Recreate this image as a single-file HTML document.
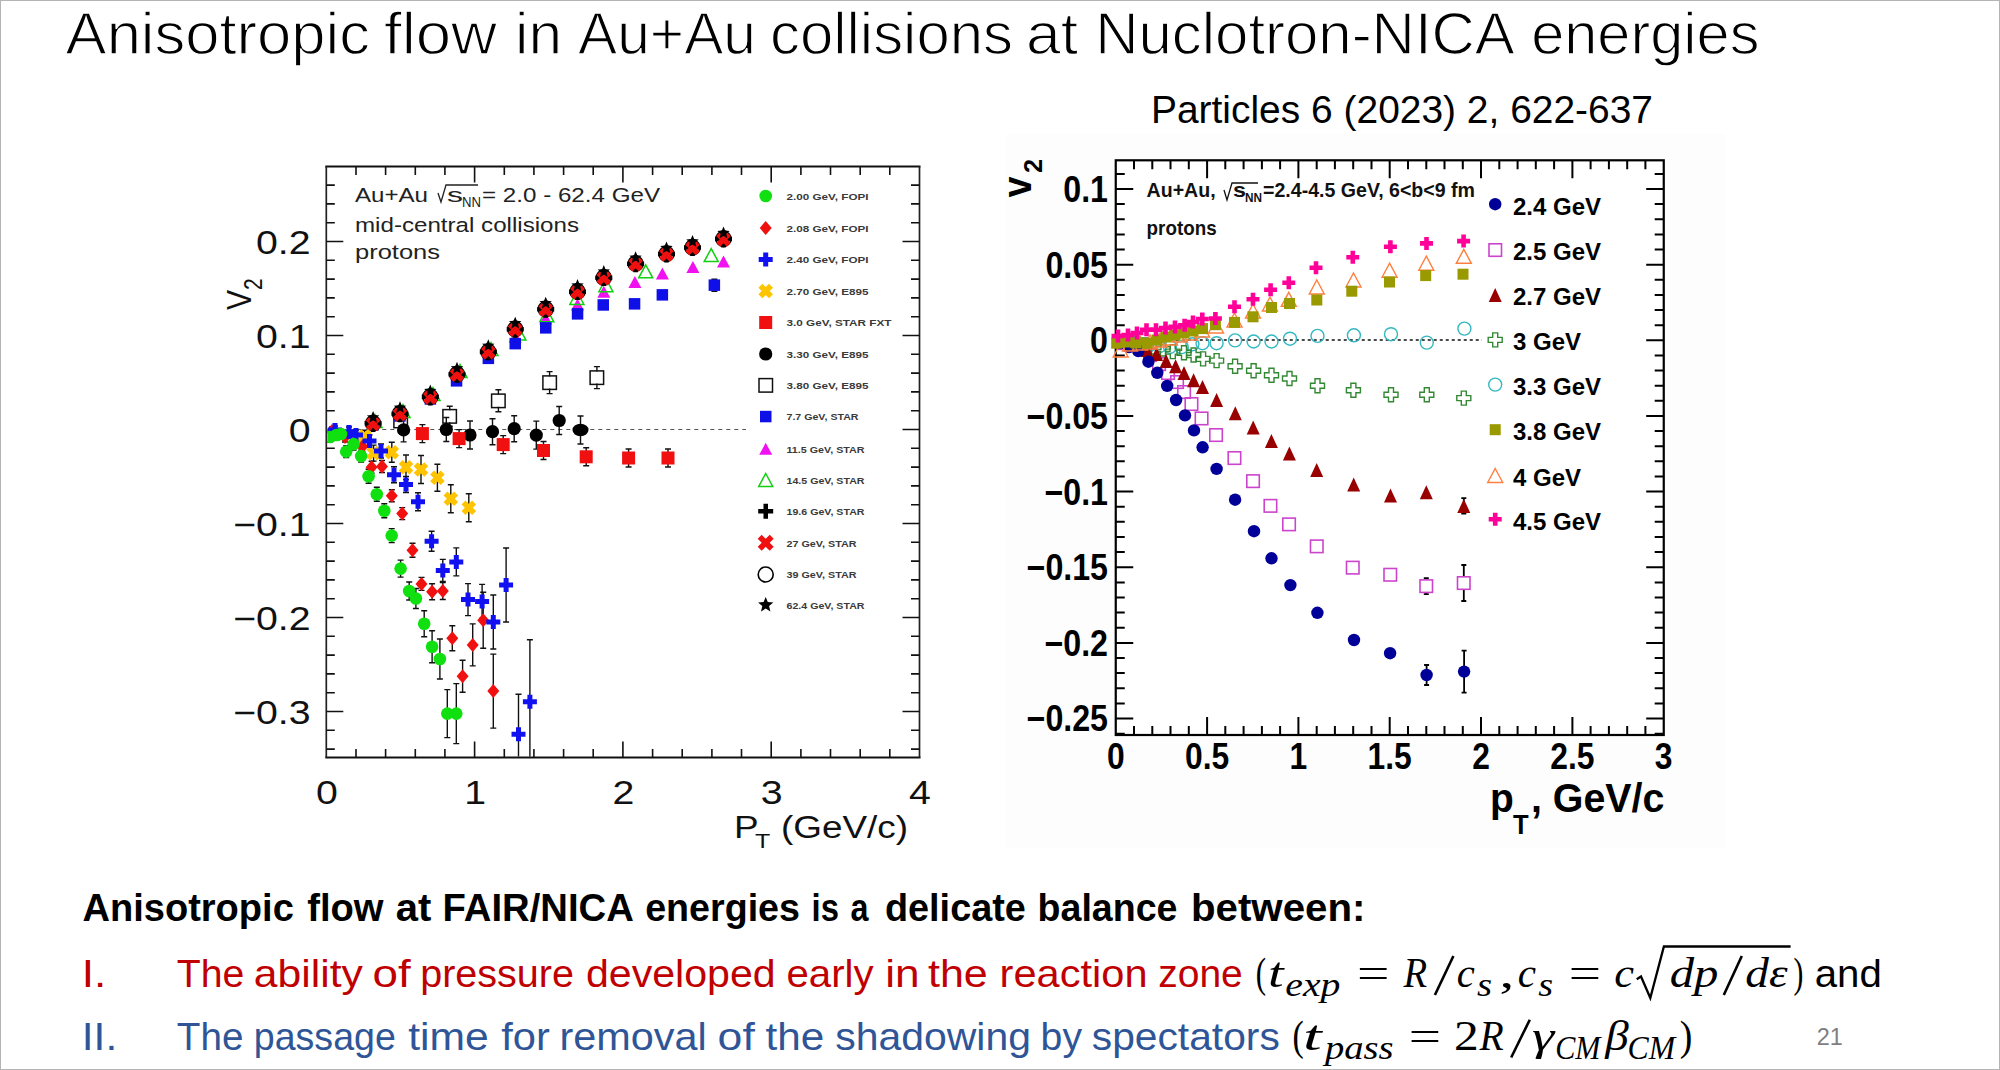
<!DOCTYPE html>
<html><head><meta charset="utf-8"><style>
html,body{margin:0;padding:0;background:#fff;}
body{width:2000px;height:1070px;overflow:hidden;position:relative;}
.frame{position:absolute;left:0;top:0;width:1998px;height:1068px;border:1px solid #b4b4b4;}
svg{position:absolute;left:0;top:0;}
</style></head><body>
<div class="frame"></div>
<svg width="2000" height="1070" viewBox="0 0 2000 1070">
<path d="M325.3 166.5H920.5M325.3 757.5H920.5" fill="none" stroke="#111" stroke-width="2.2"/><path d="M326.3 166.5V757.5M919.5 166.5V757.5" fill="none" stroke="#222" stroke-width="1.7"/>
<path d="M356.0 757.5v-8.5M356.0 166.5v8.5M385.6 757.5v-8.5M385.6 166.5v8.5M415.3 757.5v-8.5M415.3 166.5v8.5M444.9 757.5v-8.5M444.9 166.5v8.5M474.6 757.5v-16M474.6 166.5v16M504.3 757.5v-8.5M504.3 166.5v8.5M533.9 757.5v-8.5M533.9 166.5v8.5M563.6 757.5v-8.5M563.6 166.5v8.5M593.2 757.5v-8.5M593.2 166.5v8.5M622.9 757.5v-16M622.9 166.5v16M652.6 757.5v-8.5M652.6 166.5v8.5M682.2 757.5v-8.5M682.2 166.5v8.5M711.9 757.5v-8.5M711.9 166.5v8.5M741.5 757.5v-8.5M741.5 166.5v8.5M771.2 757.5v-16M771.2 166.5v16M800.9 757.5v-8.5M800.9 166.5v8.5M830.5 757.5v-8.5M830.5 166.5v8.5M860.2 757.5v-8.5M860.2 166.5v8.5M889.8 757.5v-8.5M889.8 166.5v8.5M326.3 749.1h8.5M919.5 749.1h-8.5M326.3 730.3h8.5M919.5 730.3h-8.5M326.3 711.5h17M919.5 711.5h-17M326.3 692.7h8.5M919.5 692.7h-8.5M326.3 673.9h8.5M919.5 673.9h-8.5M326.3 655.1h8.5M919.5 655.1h-8.5M326.3 636.3h8.5M919.5 636.3h-8.5M326.3 617.5h17M919.5 617.5h-17M326.3 598.7h8.5M919.5 598.7h-8.5M326.3 579.9h8.5M919.5 579.9h-8.5M326.3 561.1h8.5M919.5 561.1h-8.5M326.3 542.3h8.5M919.5 542.3h-8.5M326.3 523.5h17M919.5 523.5h-17M326.3 504.7h8.5M919.5 504.7h-8.5M326.3 485.9h8.5M919.5 485.9h-8.5M326.3 467.1h8.5M919.5 467.1h-8.5M326.3 448.3h8.5M919.5 448.3h-8.5M326.3 429.5h17M919.5 429.5h-17M326.3 410.7h8.5M919.5 410.7h-8.5M326.3 391.9h8.5M919.5 391.9h-8.5M326.3 373.1h8.5M919.5 373.1h-8.5M326.3 354.3h8.5M919.5 354.3h-8.5M326.3 335.5h17M919.5 335.5h-17M326.3 316.7h8.5M919.5 316.7h-8.5M326.3 297.9h8.5M919.5 297.9h-8.5M326.3 279.1h8.5M919.5 279.1h-8.5M326.3 260.3h8.5M919.5 260.3h-8.5M326.3 241.5h17M919.5 241.5h-17M326.3 222.7h8.5M919.5 222.7h-8.5M326.3 203.9h8.5M919.5 203.9h-8.5M326.3 185.1h8.5M919.5 185.1h-8.5" stroke="#111" stroke-width="1.6" fill="none"/>
<line x1="326.3" y1="429.5" x2="746" y2="429.5" stroke="#555" stroke-width="1.2" stroke-dasharray="4 4"/>
<text transform="translate(310.5,253.5) scale(1.19,1)" font-family='"Liberation Sans", sans-serif' font-size="33" font-weight="normal" text-anchor="end" fill="#111" >0.2</text>
<text transform="translate(310.5,347.5) scale(1.19,1)" font-family='"Liberation Sans", sans-serif' font-size="33" font-weight="normal" text-anchor="end" fill="#111" >0.1</text>
<text transform="translate(310.5,441.5) scale(1.19,1)" font-family='"Liberation Sans", sans-serif' font-size="33" font-weight="normal" text-anchor="end" fill="#111" >0</text>
<text transform="translate(310.5,535.5) scale(1.19,1)" font-family='"Liberation Sans", sans-serif' font-size="33" font-weight="normal" text-anchor="end" fill="#111" >−0.1</text>
<text transform="translate(310.5,629.5) scale(1.19,1)" font-family='"Liberation Sans", sans-serif' font-size="33" font-weight="normal" text-anchor="end" fill="#111" >−0.2</text>
<text transform="translate(310.5,723.5) scale(1.19,1)" font-family='"Liberation Sans", sans-serif' font-size="33" font-weight="normal" text-anchor="end" fill="#111" >−0.3</text>
<text transform="translate(326.8,803.8) scale(1.19,1)" font-family='"Liberation Sans", sans-serif' font-size="33" font-weight="normal" text-anchor="middle" fill="#111" >0</text>
<text transform="translate(475.1,803.8) scale(1.19,1)" font-family='"Liberation Sans", sans-serif' font-size="33" font-weight="normal" text-anchor="middle" fill="#111" >1</text>
<text transform="translate(623.4,803.8) scale(1.19,1)" font-family='"Liberation Sans", sans-serif' font-size="33" font-weight="normal" text-anchor="middle" fill="#111" >2</text>
<text transform="translate(771.7,803.8) scale(1.19,1)" font-family='"Liberation Sans", sans-serif' font-size="33" font-weight="normal" text-anchor="middle" fill="#111" >3</text>
<text transform="translate(920.0,803.8) scale(1.19,1)" font-family='"Liberation Sans", sans-serif' font-size="33" font-weight="normal" text-anchor="middle" fill="#111" >4</text>
<text transform="translate(734.0,837.5) scale(1.19,1)" font-family='"Liberation Sans", sans-serif' font-size="31" font-weight="normal" text-anchor="start" fill="#111" >P</text>
<text transform="translate(755.0,847.5) scale(1.19,1)" font-family='"Liberation Sans", sans-serif' font-size="21" font-weight="normal" text-anchor="start" fill="#111" >T</text>
<text transform="translate(781.0,837.5) scale(1.19,1)" font-family='"Liberation Sans", sans-serif' font-size="31" font-weight="normal" text-anchor="start" fill="#111" >(GeV/c)</text>
<g transform="translate(250.5,310) rotate(-90)"><text font-family='"Liberation Sans", sans-serif' font-size="30" transform="scale(1,1.19)" fill="#111">V</text><text x="20" y="10" font-family='"Liberation Sans", sans-serif' font-size="21" transform="scale(1,1.19)" fill="#111">2</text></g>
<text x="355" y="202.2" font-family='"Liberation Sans", sans-serif' font-size="20.5" fill="#222" textLength="73" lengthAdjust="spacingAndGlyphs">Au+Au</text>
<path d="M438 193l3 9l5 -17h32" stroke="#222" stroke-width="1.3" fill="none"/>
<text x="447" y="202.2" font-family='"Liberation Sans", sans-serif' font-size="20.5" fill="#222" textLength="16" lengthAdjust="spacingAndGlyphs">s</text>
<text x="462" y="207" font-family='"Liberation Sans", sans-serif' font-size="14" fill="#222" textLength="19" lengthAdjust="spacingAndGlyphs">NN</text>
<text x="482" y="202.2" font-family='"Liberation Sans", sans-serif' font-size="20.5" fill="#222" textLength="178" lengthAdjust="spacingAndGlyphs">= 2.0 - 62.4 GeV</text>
<text x="355" y="231.6" font-family='"Liberation Sans", sans-serif' font-size="20.5" fill="#222" textLength="224" lengthAdjust="spacingAndGlyphs">mid-central collisions</text>
<text x="355" y="259.2" font-family='"Liberation Sans", sans-serif' font-size="20.5" fill="#222" textLength="85" lengthAdjust="spacingAndGlyphs">protons</text>
<clipPath id="clipL"><rect x="327.3" y="167.5" width="591.2" height="589.0"/></clipPath><g clip-path="url(#clipL)">
<path d="M403.6 417.9V441.9M400.6 417.9H406.6M400.6 441.9H406.6" stroke="#111" stroke-width="1.4" fill="none"/>
<path d="M446.3 417.5V441.5M443.3 417.5H449.3M443.3 441.5H449.3" stroke="#111" stroke-width="1.4" fill="none"/>
<path d="M470.0 421.0V449.0M467.0 421.0H473.0M467.0 449.0H473.0" stroke="#111" stroke-width="1.4" fill="none"/>
<path d="M492.5 418.7V444.7M489.5 418.7H495.5M489.5 444.7H495.5" stroke="#111" stroke-width="1.4" fill="none"/>
<path d="M514.2 415.7V441.7M511.2 415.7H517.2M511.2 441.7H517.2" stroke="#111" stroke-width="1.4" fill="none"/>
<path d="M536.3 421.1V449.1M533.3 421.1H539.3M533.3 449.1H539.3" stroke="#111" stroke-width="1.4" fill="none"/>
<path d="M559.2 406.5V434.5M556.2 406.5H562.2M556.2 434.5H562.2" stroke="#111" stroke-width="1.4" fill="none"/>
<path d="M580.5 416.0V444.0M577.5 416.0H583.5M577.5 444.0H583.5" stroke="#111" stroke-width="1.4" fill="none"/>
<path d="M400.7 411.0V415.0M400.7 427.0V431.0M397.7 411.0H403.7M397.7 431.0H403.7" stroke="#111" stroke-width="1.4" fill="none"/>
<path d="M449.7 406.3V410.3M449.7 422.3V426.3M446.7 406.3H452.7M446.7 426.3H452.7" stroke="#111" stroke-width="1.4" fill="none"/>
<path d="M498.4 389.8V394.8M498.4 406.8V411.8M495.4 389.8H501.4M495.4 411.8H501.4" stroke="#111" stroke-width="1.4" fill="none"/>
<path d="M549.6 371.6V376.6M549.6 388.6V393.6M546.6 371.6H552.6M546.6 393.6H552.6" stroke="#111" stroke-width="1.4" fill="none"/>
<path d="M596.9 366.6V371.6M596.9 383.6V388.6M593.9 366.6H599.9M593.9 388.6H599.9" stroke="#111" stroke-width="1.4" fill="none"/>
<path d="M422.4 424.6V442.6M419.4 424.6H425.4M419.4 442.6H425.4" stroke="#111" stroke-width="1.4" fill="none"/>
<path d="M459.1 429.6V447.6M456.1 429.6H462.1M456.1 447.6H462.1" stroke="#111" stroke-width="1.4" fill="none"/>
<path d="M503.2 435.6V453.6M500.2 435.6H506.2M500.2 453.6H506.2" stroke="#111" stroke-width="1.4" fill="none"/>
<path d="M543.5 441.5V459.5M540.5 441.5H546.5M540.5 459.5H546.5" stroke="#111" stroke-width="1.4" fill="none"/>
<path d="M586.2 447.8V465.8M583.2 447.8H589.2M583.2 465.8H589.2" stroke="#111" stroke-width="1.4" fill="none"/>
<path d="M628.6 449.0V467.0M625.6 449.0H631.6M625.6 467.0H631.6" stroke="#111" stroke-width="1.4" fill="none"/>
<path d="M668.0 449.0V467.0M665.0 449.0H671.0M665.0 467.0H671.0" stroke="#111" stroke-width="1.4" fill="none"/>
<path d="M364.6 430.3V442.3M361.6 430.3H367.6M361.6 442.3H367.6" stroke="#111" stroke-width="1.4" fill="none"/>
<path d="M373.6 445.1V461.1M370.6 445.1H376.6M370.6 461.1H376.6" stroke="#111" stroke-width="1.4" fill="none"/>
<path d="M391.8 442.3V462.3M388.8 442.3H394.8M388.8 462.3H394.8" stroke="#111" stroke-width="1.4" fill="none"/>
<path d="M406.0 455.0V479.6M403.0 455.0H409.0M403.0 479.6H409.0" stroke="#111" stroke-width="1.4" fill="none"/>
<path d="M421.0 455.5V483.5M418.0 455.5H424.0M418.0 483.5H424.0" stroke="#111" stroke-width="1.4" fill="none"/>
<path d="M437.4 464.3V491.3M434.4 464.3H440.4M434.4 491.3H440.4" stroke="#111" stroke-width="1.4" fill="none"/>
<path d="M450.8 484.7V512.7M447.8 484.7H453.8M447.8 512.7H453.8" stroke="#111" stroke-width="1.4" fill="none"/>
<path d="M468.8 493.7V521.7M465.8 493.7H471.8M465.8 521.7H471.8" stroke="#111" stroke-width="1.4" fill="none"/>
<path d="M330.0 432.0V442.0M327.0 432.0H333.0M327.0 442.0H333.0" stroke="#111" stroke-width="1.4" fill="none"/>
<path d="M336.5 430.0V440.0M333.5 430.0H339.5M333.5 440.0H339.5" stroke="#111" stroke-width="1.4" fill="none"/>

<path d="M346.2 445.6V457.6M343.2 445.6H349.2M343.2 457.6H349.2" stroke="#111" stroke-width="1.4" fill="none"/>
<path d="M353.6 438.1V450.1M350.6 438.1H356.6M350.6 450.1H356.6" stroke="#111" stroke-width="1.4" fill="none"/>
<path d="M361.1 450.1V462.1M358.1 450.1H364.1M358.1 462.1H364.1" stroke="#111" stroke-width="1.4" fill="none"/>
<path d="M368.6 469.3V483.3M365.6 469.3H371.6M365.6 483.3H371.6" stroke="#111" stroke-width="1.4" fill="none"/>
<path d="M376.8 487.2V501.2M373.8 487.2H379.8M373.8 501.2H379.8" stroke="#111" stroke-width="1.4" fill="none"/>
<path d="M384.3 503.7V517.7M381.3 503.7H387.3M381.3 517.7H387.3" stroke="#111" stroke-width="1.4" fill="none"/>
<path d="M391.7 528.6V542.6M388.7 528.6H394.7M388.7 542.6H394.7" stroke="#111" stroke-width="1.4" fill="none"/>
<path d="M400.6 560.1V577.1M397.6 560.1H403.6M397.6 577.1H403.6" stroke="#111" stroke-width="1.4" fill="none"/>
<path d="M409.2 582.0V600.0M406.2 582.0H412.2M406.2 600.0H412.2" stroke="#111" stroke-width="1.4" fill="none"/>
<path d="M415.9 588.5V608.5M412.9 588.5H418.9M412.9 608.5H418.9" stroke="#111" stroke-width="1.4" fill="none"/>
<path d="M424.2 610.8V636.8M421.2 610.8H427.2M421.2 636.8H427.2" stroke="#111" stroke-width="1.4" fill="none"/>
<path d="M432.1 630.7V662.7M429.1 630.7H435.1M429.1 662.7H435.1" stroke="#111" stroke-width="1.4" fill="none"/>
<path d="M439.9 639.0V679.0M436.9 639.0H442.9M436.9 679.0H442.9" stroke="#111" stroke-width="1.4" fill="none"/>
<path d="M447.3 689.6V737.6M444.3 689.6H450.3M444.3 737.6H450.3" stroke="#111" stroke-width="1.4" fill="none"/>
<path d="M456.3 683.6V743.6M453.3 683.6H459.3M453.3 743.6H459.3" stroke="#111" stroke-width="1.4" fill="none"/>
<path d="M332.0 427.0V435.0M329.0 427.0H335.0M329.0 435.0H335.0" stroke="#111" stroke-width="1.4" fill="none"/>
<path d="M345.0 432.0V442.0M342.0 432.0H348.0M342.0 442.0H348.0" stroke="#111" stroke-width="1.4" fill="none"/>
<path d="M362.4 441.4V451.4M359.4 441.4H365.4M359.4 451.4H365.4" stroke="#111" stroke-width="1.4" fill="none"/>
<path d="M371.6 461.3V473.3M368.6 461.3H374.6M368.6 473.3H374.6" stroke="#111" stroke-width="1.4" fill="none"/>
<path d="M382.0 460.5V472.5M379.0 460.5H385.0M379.0 472.5H385.0" stroke="#111" stroke-width="1.4" fill="none"/>
<path d="M391.8 489.7V501.7M388.8 489.7H394.8M388.8 501.7H394.8" stroke="#111" stroke-width="1.4" fill="none"/>
<path d="M402.2 507.6V519.6M399.2 507.6H405.2M399.2 519.6H405.2" stroke="#111" stroke-width="1.4" fill="none"/>
<path d="M412.5 543.2V557.2M409.5 543.2H415.5M409.5 557.2H415.5" stroke="#111" stroke-width="1.4" fill="none"/>
<path d="M421.5 577.4V590.4M418.5 577.4H424.5M418.5 590.4H424.5" stroke="#111" stroke-width="1.4" fill="none"/>
<path d="M432.1 583.7V599.7M429.1 583.7H435.1M429.1 599.7H435.1" stroke="#111" stroke-width="1.4" fill="none"/>
<path d="M442.8 582.5V599.5M439.8 582.5H445.8M439.8 599.5H445.8" stroke="#111" stroke-width="1.4" fill="none"/>
<path d="M452.3 625.7V650.7M449.3 625.7H455.3M449.3 650.7H455.3" stroke="#111" stroke-width="1.4" fill="none"/>
<path d="M462.6 660.3V692.3M459.6 660.3H465.6M459.6 692.3H465.6" stroke="#111" stroke-width="1.4" fill="none"/>
<path d="M472.7 623.9V665.9M469.7 623.9H475.7M469.7 665.9H475.7" stroke="#111" stroke-width="1.4" fill="none"/>
<path d="M483.2 592.2V648.2M480.2 592.2H486.2M480.2 648.2H486.2" stroke="#111" stroke-width="1.4" fill="none"/>
<path d="M493.3 654.1V728.1M490.3 654.1H496.3M490.3 728.1H496.3" stroke="#111" stroke-width="1.4" fill="none"/>
<path d="M335.0 426.0V434.0M332.0 426.0H338.0M332.0 434.0H338.0" stroke="#111" stroke-width="1.4" fill="none"/>
<path d="M349.0 427.0V437.0M346.0 427.0H352.0M346.0 437.0H352.0" stroke="#111" stroke-width="1.4" fill="none"/>
<path d="M356.0 430.0V440.0M353.0 430.0H359.0M353.0 440.0H359.0" stroke="#111" stroke-width="1.4" fill="none"/>
<path d="M369.5 435.0V447.0M366.5 435.0H372.5M366.5 447.0H372.5" stroke="#111" stroke-width="1.4" fill="none"/>
<path d="M381.0 444.0V458.0M378.0 444.0H384.0M378.0 458.0H384.0" stroke="#111" stroke-width="1.4" fill="none"/>
<path d="M394.0 466.8V482.8M391.0 466.8H397.0M391.0 482.8H397.0" stroke="#111" stroke-width="1.4" fill="none"/>
<path d="M406.0 476.5V492.5M403.0 476.5H409.0M403.0 492.5H409.0" stroke="#111" stroke-width="1.4" fill="none"/>
<path d="M418.0 492.7V510.7M415.0 492.7H421.0M415.0 510.7H421.0" stroke="#111" stroke-width="1.4" fill="none"/>
<path d="M431.6 531.2V551.2M428.6 531.2H434.6M428.6 551.2H434.6" stroke="#111" stroke-width="1.4" fill="none"/>
<path d="M442.8 559.4V581.4M439.8 559.4H445.8M439.8 581.4H445.8" stroke="#111" stroke-width="1.4" fill="none"/>
<path d="M456.3 547.9V575.9M453.3 547.9H459.3M453.3 575.9H459.3" stroke="#111" stroke-width="1.4" fill="none"/>
<path d="M468.0 583.6V615.6M465.0 583.6H471.0M465.0 615.6H471.0" stroke="#111" stroke-width="1.4" fill="none"/>
<path d="M482.1 584.4V618.4M479.1 584.4H485.1M479.1 618.4H485.1" stroke="#111" stroke-width="1.4" fill="none"/>
<path d="M493.3 595.0V649.0M490.3 595.0H496.3M490.3 649.0H496.3" stroke="#111" stroke-width="1.4" fill="none"/>
<path d="M506.1 548.0V622.0M503.1 548.0H509.1M503.1 622.0H509.1" stroke="#111" stroke-width="1.4" fill="none"/>
<path d="M518.5 694.2V774.2M515.5 694.2H521.5M515.5 774.2H521.5" stroke="#111" stroke-width="1.4" fill="none"/>
<path d="M529.9 639.7V763.7M526.9 639.7H532.9M526.9 763.7H532.9" stroke="#111" stroke-width="1.4" fill="none"/>










<path d="M662.4 290.9V298.9M659.4 290.9H665.4M659.4 298.9H665.4" stroke="#111" stroke-width="1.4" fill="none"/>
<path d="M714.4 279.2V291.2M711.4 279.2H717.4M711.4 291.2H717.4" stroke="#111" stroke-width="1.4" fill="none"/>
<rect x="393.9" y="414.2" width="13.5" height="13.5" fill="none" stroke="#111" stroke-width="1.5"/>
<rect x="442.9" y="409.6" width="13.5" height="13.5" fill="none" stroke="#111" stroke-width="1.5"/>
<rect x="491.6" y="394.1" width="13.5" height="13.5" fill="none" stroke="#111" stroke-width="1.5"/>
<rect x="542.9" y="375.9" width="13.5" height="13.5" fill="none" stroke="#111" stroke-width="1.5"/>
<rect x="590.1" y="370.9" width="13.5" height="13.5" fill="none" stroke="#111" stroke-width="1.5"/>
<circle cx="403.6" cy="429.9" r="6.6" fill="#000" stroke="none" stroke-width="0"/>
<circle cx="446.3" cy="429.5" r="6.6" fill="#000" stroke="none" stroke-width="0"/>
<circle cx="470.0" cy="435.0" r="6.6" fill="#000" stroke="none" stroke-width="0"/>
<circle cx="492.5" cy="431.7" r="6.6" fill="#000" stroke="none" stroke-width="0"/>
<circle cx="514.2" cy="428.7" r="6.6" fill="#000" stroke="none" stroke-width="0"/>
<circle cx="536.3" cy="435.1" r="6.6" fill="#000" stroke="none" stroke-width="0"/>
<circle cx="559.2" cy="420.5" r="6.6" fill="#000" stroke="none" stroke-width="0"/>
<ellipse cx="580.5" cy="430" rx="8" ry="6.2" fill="#000"/>
<rect x="415.9" y="427.1" width="13" height="13" fill="#f01010" stroke="none" stroke-width="0"/>
<rect x="452.6" y="432.1" width="13" height="13" fill="#f01010" stroke="none" stroke-width="0"/>
<rect x="496.7" y="438.1" width="13" height="13" fill="#f01010" stroke="none" stroke-width="0"/>
<rect x="537.0" y="444.0" width="13" height="13" fill="#f01010" stroke="none" stroke-width="0"/>
<rect x="579.7" y="450.3" width="13" height="13" fill="#f01010" stroke="none" stroke-width="0"/>
<rect x="622.1" y="451.5" width="13" height="13" fill="#f01010" stroke="none" stroke-width="0"/>
<rect x="661.5" y="451.5" width="13" height="13" fill="#f01010" stroke="none" stroke-width="0"/>
<path d="M373.0 414.0L379.5 426.0L366.5 426.0Z" fill="#f010f0" stroke="none" stroke-width="0" stroke-linejoin="miter"/>
<path d="M400.0 404.0L406.5 416.0L393.5 416.0Z" fill="#f010f0" stroke="none" stroke-width="0" stroke-linejoin="miter"/>
<path d="M430.0 387.0L436.5 399.0L423.5 399.0Z" fill="#f010f0" stroke="none" stroke-width="0" stroke-linejoin="miter"/>
<path d="M457.0 366.0L463.5 378.0L450.5 378.0Z" fill="#f010f0" stroke="none" stroke-width="0" stroke-linejoin="miter"/>
<path d="M488.0 344.0L494.5 356.0L481.5 356.0Z" fill="#f010f0" stroke="none" stroke-width="0" stroke-linejoin="miter"/>
<path d="M515.2 330.8L521.7 342.8L508.7 342.8Z" fill="#f010f0" stroke="none" stroke-width="0" stroke-linejoin="miter"/>
<path d="M545.7 312.5L552.2 324.5L539.2 324.5Z" fill="#f010f0" stroke="none" stroke-width="0" stroke-linejoin="miter"/>
<path d="M577.5 298.6L584.0 310.6L571.0 310.6Z" fill="#f010f0" stroke="none" stroke-width="0" stroke-linejoin="miter"/>
<path d="M603.8 285.7L610.3 297.7L597.3 297.7Z" fill="#f010f0" stroke="none" stroke-width="0" stroke-linejoin="miter"/>
<path d="M634.9 276.0L641.4 288.0L628.4 288.0Z" fill="#f010f0" stroke="none" stroke-width="0" stroke-linejoin="miter"/>
<path d="M662.4 267.4L668.9 279.4L655.9 279.4Z" fill="#f010f0" stroke="none" stroke-width="0" stroke-linejoin="miter"/>
<path d="M692.9 261.0L699.4 273.0L686.4 273.0Z" fill="#f010f0" stroke="none" stroke-width="0" stroke-linejoin="miter"/>
<path d="M723.5 255.6L730.0 267.6L717.0 267.6Z" fill="#f010f0" stroke="none" stroke-width="0" stroke-linejoin="miter"/>
<path d="M375.0 414.5L382.0 427.5L368.0 427.5Z" fill="none" stroke="#10d010" stroke-width="1.5" stroke-linejoin="miter"/>
<path d="M403.0 404.5L410.0 417.5L396.0 417.5Z" fill="none" stroke="#10d010" stroke-width="1.5" stroke-linejoin="miter"/>
<path d="M433.0 387.5L440.0 400.5L426.0 400.5Z" fill="none" stroke="#10d010" stroke-width="1.5" stroke-linejoin="miter"/>
<path d="M460.0 364.5L467.0 377.5L453.0 377.5Z" fill="none" stroke="#10d010" stroke-width="1.5" stroke-linejoin="miter"/>
<path d="M491.0 342.5L498.0 355.5L484.0 355.5Z" fill="none" stroke="#10d010" stroke-width="1.5" stroke-linejoin="miter"/>
<path d="M518.9 327.1L525.9 340.1L511.9 340.1Z" fill="none" stroke="#10d010" stroke-width="1.5" stroke-linejoin="miter"/>
<path d="M546.8 308.8L553.8 321.8L539.8 321.8Z" fill="none" stroke="#10d010" stroke-width="1.5" stroke-linejoin="miter"/>
<path d="M576.9 291.5L583.9 304.5L569.9 304.5Z" fill="none" stroke="#10d010" stroke-width="1.5" stroke-linejoin="miter"/>
<path d="M605.9 278.7L612.9 291.7L598.9 291.7Z" fill="none" stroke="#10d010" stroke-width="1.5" stroke-linejoin="miter"/>
<path d="M645.7 264.8L652.7 277.8L638.7 277.8Z" fill="none" stroke="#10d010" stroke-width="1.5" stroke-linejoin="miter"/>
<path d="M711.2 248.6L718.2 261.6L704.2 261.6Z" fill="none" stroke="#10d010" stroke-width="1.5" stroke-linejoin="miter"/>
<rect x="367.2" y="419.2" width="11.5" height="11.5" fill="#0f10e8" stroke="none" stroke-width="0"/>
<rect x="394.2" y="410.2" width="11.5" height="11.5" fill="#0f10e8" stroke="none" stroke-width="0"/>
<rect x="424.6" y="393.2" width="11.5" height="11.5" fill="#0f10e8" stroke="none" stroke-width="0"/>
<rect x="450.8" y="375.1" width="11.5" height="11.5" fill="#0f10e8" stroke="none" stroke-width="0"/>
<rect x="482.6" y="352.6" width="11.5" height="11.5" fill="#0f10e8" stroke="none" stroke-width="0"/>
<rect x="509.5" y="337.9" width="11.5" height="11.5" fill="#0f10e8" stroke="none" stroke-width="0"/>
<rect x="540.0" y="322.1" width="11.5" height="11.5" fill="#0f10e8" stroke="none" stroke-width="0"/>
<rect x="571.8" y="308.1" width="11.5" height="11.5" fill="#0f10e8" stroke="none" stroke-width="0"/>
<rect x="597.5" y="299.2" width="11.5" height="11.5" fill="#0f10e8" stroke="none" stroke-width="0"/>
<rect x="628.8" y="298.1" width="11.5" height="11.5" fill="#0f10e8" stroke="none" stroke-width="0"/>
<rect x="656.6" y="289.1" width="11.5" height="11.5" fill="#0f10e8" stroke="none" stroke-width="0"/>
<rect x="708.6" y="279.4" width="11.5" height="11.5" fill="#0f10e8" stroke="none" stroke-width="0"/>
<circle cx="373.1" cy="423.4" r="7.5" fill="none" stroke="#000" stroke-width="1.6"/>
<path d="M370.9 414.9H375.4V421.1H381.6V425.6H375.4V431.9H370.9V425.6H364.6V421.1H370.9Z" fill="#000" stroke="none" stroke-width="0"/>
<g transform="translate(373.1,423.9) rotate(45)"><path d="M-2.8 -7.5H2.8V-2.8H7.5V2.8H2.8V7.5H-2.8V2.8H-7.5V-2.8H-2.8Z" fill="#f01010" stroke="none" stroke-width="0"/></g>
<polygon points="373.1,410.9 374.8,415.0 379.3,415.4 375.9,418.3 376.9,422.7 373.1,420.3 369.3,422.7 370.3,418.3 366.9,415.4 371.4,415.0" fill="#000"/>
<circle cx="400.0" cy="413.7" r="7.5" fill="none" stroke="#000" stroke-width="1.6"/>
<path d="M397.8 405.2H402.2V411.4H408.5V415.9H402.2V422.2H397.8V415.9H391.5V411.4H397.8Z" fill="#000" stroke="none" stroke-width="0"/>
<g transform="translate(400.0,414.2) rotate(45)"><path d="M-2.8 -7.5H2.8V-2.8H7.5V2.8H2.8V7.5H-2.8V2.8H-7.5V-2.8H-2.8Z" fill="#f01010" stroke="none" stroke-width="0"/></g>
<polygon points="400.0,401.2 401.7,405.3 406.2,405.7 402.8,408.6 403.8,413.0 400.0,410.6 396.2,413.0 397.2,408.6 393.8,405.7 398.3,405.3" fill="#000"/>
<circle cx="430.3" cy="396.9" r="7.5" fill="none" stroke="#000" stroke-width="1.6"/>
<path d="M428.1 388.4H432.6V394.6H438.8V399.1H432.6V405.4H428.1V399.1H421.8V394.6H428.1Z" fill="#000" stroke="none" stroke-width="0"/>
<g transform="translate(430.3,397.4) rotate(45)"><path d="M-2.8 -7.5H2.8V-2.8H7.5V2.8H2.8V7.5H-2.8V2.8H-7.5V-2.8H-2.8Z" fill="#f01010" stroke="none" stroke-width="0"/></g>
<polygon points="430.3,384.4 432.0,388.5 436.5,388.9 433.1,391.8 434.1,396.2 430.3,393.8 426.5,396.2 427.5,391.8 424.1,388.9 428.6,388.5" fill="#000"/>
<circle cx="457.0" cy="374.3" r="7.5" fill="none" stroke="#000" stroke-width="1.6"/>
<path d="M454.8 365.8H459.2V372.1H465.5V376.6H459.2V382.8H454.8V376.6H448.5V372.1H454.8Z" fill="#000" stroke="none" stroke-width="0"/>
<g transform="translate(457.0,374.8) rotate(45)"><path d="M-2.8 -7.5H2.8V-2.8H7.5V2.8H2.8V7.5H-2.8V2.8H-7.5V-2.8H-2.8Z" fill="#f01010" stroke="none" stroke-width="0"/></g>
<polygon points="457.0,361.8 458.7,365.9 463.2,366.3 459.8,369.2 460.8,373.6 457.0,371.2 453.2,373.6 454.2,369.2 450.8,366.3 455.3,365.9" fill="#000"/>
<circle cx="488.3" cy="351.8" r="7.5" fill="none" stroke="#000" stroke-width="1.6"/>
<path d="M486.1 343.3H490.6V349.6H496.8V354.1H490.6V360.3H486.1V354.1H479.8V349.6H486.1Z" fill="#000" stroke="none" stroke-width="0"/>
<g transform="translate(488.3,352.3) rotate(45)"><path d="M-2.8 -7.5H2.8V-2.8H7.5V2.8H2.8V7.5H-2.8V2.8H-7.5V-2.8H-2.8Z" fill="#f01010" stroke="none" stroke-width="0"/></g>
<polygon points="488.3,339.3 490.0,343.4 494.5,343.8 491.1,346.7 492.1,351.1 488.3,348.7 484.5,351.1 485.5,346.7 482.1,343.8 486.6,343.4" fill="#000"/>
<circle cx="515.2" cy="329.2" r="7.5" fill="none" stroke="#000" stroke-width="1.6"/>
<path d="M513.0 320.7H517.5V326.9H523.7V331.4H517.5V337.7H513.0V331.4H506.7V326.9H513.0Z" fill="#000" stroke="none" stroke-width="0"/>
<g transform="translate(515.2,329.7) rotate(45)"><path d="M-2.8 -7.5H2.8V-2.8H7.5V2.8H2.8V7.5H-2.8V2.8H-7.5V-2.8H-2.8Z" fill="#f01010" stroke="none" stroke-width="0"/></g>
<polygon points="515.2,316.7 516.9,320.8 521.4,321.2 518.0,324.1 519.0,328.5 515.2,326.1 511.4,328.5 512.4,324.1 509.0,321.2 513.5,320.8" fill="#000"/>
<circle cx="545.7" cy="309.2" r="7.5" fill="none" stroke="#000" stroke-width="1.6"/>
<path d="M543.5 300.7H548.0V306.9H554.2V311.4H548.0V317.7H543.5V311.4H537.2V306.9H543.5Z" fill="#000" stroke="none" stroke-width="0"/>
<g transform="translate(545.7,309.7) rotate(45)"><path d="M-2.8 -7.5H2.8V-2.8H7.5V2.8H2.8V7.5H-2.8V2.8H-7.5V-2.8H-2.8Z" fill="#f01010" stroke="none" stroke-width="0"/></g>
<polygon points="545.7,296.7 547.4,300.8 551.9,301.2 548.5,304.1 549.5,308.5 545.7,306.1 541.9,308.5 542.9,304.1 539.5,301.2 544.0,300.8" fill="#000"/>
<circle cx="577.5" cy="291.6" r="7.5" fill="none" stroke="#000" stroke-width="1.6"/>
<path d="M575.2 283.1H579.8V289.4H586.0V293.9H579.8V300.1H575.2V293.9H569.0V289.4H575.2Z" fill="#000" stroke="none" stroke-width="0"/>
<g transform="translate(577.5,292.1) rotate(45)"><path d="M-2.8 -7.5H2.8V-2.8H7.5V2.8H2.8V7.5H-2.8V2.8H-7.5V-2.8H-2.8Z" fill="#f01010" stroke="none" stroke-width="0"/></g>
<polygon points="577.5,279.1 579.2,283.2 583.7,283.6 580.3,286.5 581.3,290.9 577.5,288.5 573.7,290.9 574.7,286.5 571.3,283.6 575.8,283.2" fill="#000"/>
<circle cx="603.8" cy="277.6" r="7.5" fill="none" stroke="#000" stroke-width="1.6"/>
<path d="M601.5 269.1H606.0V275.4H612.3V279.9H606.0V286.1H601.5V279.9H595.3V275.4H601.5Z" fill="#000" stroke="none" stroke-width="0"/>
<g transform="translate(603.8,278.1) rotate(45)"><path d="M-2.8 -7.5H2.8V-2.8H7.5V2.8H2.8V7.5H-2.8V2.8H-7.5V-2.8H-2.8Z" fill="#f01010" stroke="none" stroke-width="0"/></g>
<polygon points="603.8,265.1 605.5,269.2 610.0,269.6 606.6,272.5 607.6,276.9 603.8,274.5 600.0,276.9 601.0,272.5 597.6,269.6 602.1,269.2" fill="#000"/>
<circle cx="635.6" cy="263.7" r="7.5" fill="none" stroke="#000" stroke-width="1.6"/>
<path d="M633.4 255.2H637.9V261.4H644.1V265.9H637.9V272.2H633.4V265.9H627.1V261.4H633.4Z" fill="#000" stroke="none" stroke-width="0"/>
<g transform="translate(635.6,264.2) rotate(45)"><path d="M-2.8 -7.5H2.8V-2.8H7.5V2.8H2.8V7.5H-2.8V2.8H-7.5V-2.8H-2.8Z" fill="#f01010" stroke="none" stroke-width="0"/></g>
<polygon points="635.6,251.2 637.3,255.3 641.8,255.7 638.4,258.6 639.4,263.0 635.6,260.6 631.8,263.0 632.8,258.6 629.4,255.7 633.9,255.3" fill="#000"/>
<circle cx="666.5" cy="254.0" r="7.5" fill="none" stroke="#000" stroke-width="1.6"/>
<path d="M664.2 245.5H668.8V251.8H675.0V256.2H668.8V262.5H664.2V256.2H658.0V251.8H664.2Z" fill="#000" stroke="none" stroke-width="0"/>
<g transform="translate(666.5,254.5) rotate(45)"><path d="M-2.8 -7.5H2.8V-2.8H7.5V2.8H2.8V7.5H-2.8V2.8H-7.5V-2.8H-2.8Z" fill="#f01010" stroke="none" stroke-width="0"/></g>
<polygon points="666.5,241.5 668.2,245.6 672.7,246.0 669.3,248.9 670.3,253.3 666.5,250.9 662.7,253.3 663.7,248.9 660.3,246.0 664.8,245.6" fill="#000"/>
<circle cx="692.5" cy="247.5" r="7.5" fill="none" stroke="#000" stroke-width="1.6"/>
<path d="M690.2 239.0H694.8V245.2H701.0V249.8H694.8V256.0H690.2V249.8H684.0V245.2H690.2Z" fill="#000" stroke="none" stroke-width="0"/>
<g transform="translate(692.5,248.0) rotate(45)"><path d="M-2.8 -7.5H2.8V-2.8H7.5V2.8H2.8V7.5H-2.8V2.8H-7.5V-2.8H-2.8Z" fill="#f01010" stroke="none" stroke-width="0"/></g>
<polygon points="692.5,235.0 694.2,239.1 698.7,239.5 695.3,242.4 696.3,246.8 692.5,244.4 688.7,246.8 689.7,242.4 686.3,239.5 690.8,239.1" fill="#000"/>
<circle cx="723.5" cy="238.9" r="7.5" fill="none" stroke="#000" stroke-width="1.6"/>
<path d="M721.2 230.4H725.8V236.7H732.0V241.2H725.8V247.4H721.2V241.2H715.0V236.7H721.2Z" fill="#000" stroke="none" stroke-width="0"/>
<g transform="translate(723.5,239.4) rotate(45)"><path d="M-2.8 -7.5H2.8V-2.8H7.5V2.8H2.8V7.5H-2.8V2.8H-7.5V-2.8H-2.8Z" fill="#f01010" stroke="none" stroke-width="0"/></g>
<polygon points="723.5,226.4 725.2,230.5 729.7,230.9 726.3,233.8 727.3,238.2 723.5,235.8 719.7,238.2 720.7,233.8 717.3,230.9 721.8,230.5" fill="#000"/>
<g transform="translate(364.6,436.3) rotate(45)"><path d="M-2.8 -7.5H2.8V-2.8H7.5V2.8H2.8V7.5H-2.8V2.8H-7.5V-2.8H-2.8Z" fill="#ffc400" stroke="none" stroke-width="0"/></g>
<g transform="translate(373.6,453.1) rotate(45)"><path d="M-2.8 -7.5H2.8V-2.8H7.5V2.8H2.8V7.5H-2.8V2.8H-7.5V-2.8H-2.8Z" fill="#ffc400" stroke="none" stroke-width="0"/></g>
<g transform="translate(391.8,452.3) rotate(45)"><path d="M-2.8 -7.5H2.8V-2.8H7.5V2.8H2.8V7.5H-2.8V2.8H-7.5V-2.8H-2.8Z" fill="#ffc400" stroke="none" stroke-width="0"/></g>
<g transform="translate(406.0,467.3) rotate(45)"><path d="M-2.8 -7.5H2.8V-2.8H7.5V2.8H2.8V7.5H-2.8V2.8H-7.5V-2.8H-2.8Z" fill="#ffc400" stroke="none" stroke-width="0"/></g>
<g transform="translate(421.0,469.5) rotate(45)"><path d="M-2.8 -7.5H2.8V-2.8H7.5V2.8H2.8V7.5H-2.8V2.8H-7.5V-2.8H-2.8Z" fill="#ffc400" stroke="none" stroke-width="0"/></g>
<g transform="translate(437.4,477.8) rotate(45)"><path d="M-2.8 -7.5H2.8V-2.8H7.5V2.8H2.8V7.5H-2.8V2.8H-7.5V-2.8H-2.8Z" fill="#ffc400" stroke="none" stroke-width="0"/></g>
<g transform="translate(450.8,498.7) rotate(45)"><path d="M-2.8 -7.5H2.8V-2.8H7.5V2.8H2.8V7.5H-2.8V2.8H-7.5V-2.8H-2.8Z" fill="#ffc400" stroke="none" stroke-width="0"/></g>
<g transform="translate(468.8,507.7) rotate(45)"><path d="M-2.8 -7.5H2.8V-2.8H7.5V2.8H2.8V7.5H-2.8V2.8H-7.5V-2.8H-2.8Z" fill="#ffc400" stroke="none" stroke-width="0"/></g>
<path d="M332.0 424.0L338.0 431.0L332.0 438.0L326.0 431.0Z" fill="#f01010"/>
<path d="M345.0 430.0L351.0 437.0L345.0 444.0L339.0 437.0Z" fill="#f01010"/>
<path d="M362.4 439.4L368.4 446.4L362.4 453.4L356.4 446.4Z" fill="#f01010"/>
<path d="M371.6 460.3L377.6 467.3L371.6 474.3L365.6 467.3Z" fill="#f01010"/>
<path d="M382.0 459.5L388.0 466.5L382.0 473.5L376.0 466.5Z" fill="#f01010"/>
<path d="M391.8 488.7L397.8 495.7L391.8 502.7L385.8 495.7Z" fill="#f01010"/>
<path d="M402.2 506.6L408.2 513.6L402.2 520.6L396.2 513.6Z" fill="#f01010"/>
<path d="M412.5 543.2L418.5 550.2L412.5 557.2L406.5 550.2Z" fill="#f01010"/>
<path d="M421.5 576.9L427.5 583.9L421.5 590.9L415.5 583.9Z" fill="#f01010"/>
<path d="M432.1 584.7L438.1 591.7L432.1 598.7L426.1 591.7Z" fill="#f01010"/>
<path d="M442.8 584.0L448.8 591.0L442.8 598.0L436.8 591.0Z" fill="#f01010"/>
<path d="M452.3 631.2L458.3 638.2L452.3 645.2L446.3 638.2Z" fill="#f01010"/>
<path d="M462.6 669.3L468.6 676.3L462.6 683.3L456.6 676.3Z" fill="#f01010"/>
<path d="M472.7 637.9L478.7 644.9L472.7 651.9L466.7 644.9Z" fill="#f01010"/>
<path d="M483.2 613.2L489.2 620.2L483.2 627.2L477.2 620.2Z" fill="#f01010"/>
<path d="M493.3 684.1L499.3 691.1L493.3 698.1L487.3 691.1Z" fill="#f01010"/>
<path d="M332.5 423.0H337.5V427.5H342.0V432.5H337.5V437.0H332.5V432.5H328.0V427.5H332.5Z" fill="#1010f0" stroke="none" stroke-width="0"/>
<path d="M346.5 425.0H351.5V429.5H356.0V434.5H351.5V439.0H346.5V434.5H342.0V429.5H346.5Z" fill="#1010f0" stroke="none" stroke-width="0"/>
<path d="M353.5 428.0H358.5V432.5H363.0V437.5H358.5V442.0H353.5V437.5H349.0V432.5H353.5Z" fill="#1010f0" stroke="none" stroke-width="0"/>
<path d="M367.0 434.0H372.0V438.5H376.5V443.5H372.0V448.0H367.0V443.5H362.5V438.5H367.0Z" fill="#1010f0" stroke="none" stroke-width="0"/>
<path d="M378.5 444.0H383.5V448.5H388.0V453.5H383.5V458.0H378.5V453.5H374.0V448.5H378.5Z" fill="#1010f0" stroke="none" stroke-width="0"/>
<path d="M391.5 467.8H396.5V472.3H401.0V477.3H396.5V481.8H391.5V477.3H387.0V472.3H391.5Z" fill="#1010f0" stroke="none" stroke-width="0"/>
<path d="M403.5 477.5H408.5V482.0H413.0V487.0H408.5V491.5H403.5V487.0H399.0V482.0H403.5Z" fill="#1010f0" stroke="none" stroke-width="0"/>
<path d="M415.5 494.7H420.5V499.2H425.0V504.2H420.5V508.7H415.5V504.2H411.0V499.2H415.5Z" fill="#1010f0" stroke="none" stroke-width="0"/>
<path d="M429.1 534.2H434.1V538.7H438.6V543.7H434.1V548.2H429.1V543.7H424.6V538.7H429.1Z" fill="#1010f0" stroke="none" stroke-width="0"/>
<path d="M440.3 563.4H445.3V567.9H449.8V572.9H445.3V577.4H440.3V572.9H435.8V567.9H440.3Z" fill="#1010f0" stroke="none" stroke-width="0"/>
<path d="M453.8 554.9H458.8V559.4H463.3V564.4H458.8V568.9H453.8V564.4H449.3V559.4H453.8Z" fill="#1010f0" stroke="none" stroke-width="0"/>
<path d="M465.5 592.6H470.5V597.1H475.0V602.1H470.5V606.6H465.5V602.1H461.0V597.1H465.5Z" fill="#1010f0" stroke="none" stroke-width="0"/>
<path d="M479.6 594.4H484.6V598.9H489.1V603.9H484.6V608.4H479.6V603.9H475.1V598.9H479.6Z" fill="#1010f0" stroke="none" stroke-width="0"/>
<path d="M490.8 615.0H495.8V619.5H500.3V624.5H495.8V629.0H490.8V624.5H486.3V619.5H490.8Z" fill="#1010f0" stroke="none" stroke-width="0"/>
<path d="M503.6 578.0H508.6V582.5H513.1V587.5H508.6V592.0H503.6V587.5H499.1V582.5H503.6Z" fill="#1010f0" stroke="none" stroke-width="0"/>
<path d="M516.0 727.2H521.0V731.7H525.5V736.7H521.0V741.2H516.0V736.7H511.5V731.7H516.0Z" fill="#1010f0" stroke="none" stroke-width="0"/>
<path d="M527.4 694.7H532.4V699.2H536.9V704.2H532.4V708.7H527.4V704.2H522.9V699.2H527.4Z" fill="#1010f0" stroke="none" stroke-width="0"/>
<circle cx="330.0" cy="437.0" r="6.3" fill="#10e010" stroke="none" stroke-width="0"/>
<circle cx="336.5" cy="435.0" r="6.3" fill="#10e010" stroke="none" stroke-width="0"/>
<circle cx="341.0" cy="434.0" r="6.3" fill="#10e010" stroke="none" stroke-width="0"/>
<circle cx="346.2" cy="451.6" r="6.3" fill="#10e010" stroke="none" stroke-width="0"/>
<circle cx="353.6" cy="444.1" r="6.3" fill="#10e010" stroke="none" stroke-width="0"/>
<circle cx="361.1" cy="456.1" r="6.3" fill="#10e010" stroke="none" stroke-width="0"/>
<circle cx="368.6" cy="476.3" r="6.3" fill="#10e010" stroke="none" stroke-width="0"/>
<circle cx="376.8" cy="494.2" r="6.3" fill="#10e010" stroke="none" stroke-width="0"/>
<circle cx="384.3" cy="510.7" r="6.3" fill="#10e010" stroke="none" stroke-width="0"/>
<circle cx="391.7" cy="535.6" r="6.3" fill="#10e010" stroke="none" stroke-width="0"/>
<circle cx="400.6" cy="568.6" r="6.3" fill="#10e010" stroke="none" stroke-width="0"/>
<circle cx="409.2" cy="591.0" r="6.3" fill="#10e010" stroke="none" stroke-width="0"/>
<circle cx="415.9" cy="598.5" r="6.3" fill="#10e010" stroke="none" stroke-width="0"/>
<circle cx="424.2" cy="623.8" r="6.3" fill="#10e010" stroke="none" stroke-width="0"/>
<circle cx="432.1" cy="646.7" r="6.3" fill="#10e010" stroke="none" stroke-width="0"/>
<circle cx="439.9" cy="659.0" r="6.3" fill="#10e010" stroke="none" stroke-width="0"/>
<circle cx="447.3" cy="713.6" r="6.3" fill="#10e010" stroke="none" stroke-width="0"/>
<circle cx="456.3" cy="713.6" r="6.3" fill="#10e010" stroke="none" stroke-width="0"/>
</g>
<circle cx="765.7" cy="196.0" r="6.3" fill="#10e010" stroke="none" stroke-width="0"/>
<text x="786.5" y="199.8" font-family='"Liberation Sans", sans-serif' font-size="9.6" font-weight="bold" fill="#3a3a3a" textLength="82" lengthAdjust="spacingAndGlyphs">2.00 GeV, FOPI</text>
<path d="M765.7 221.0L771.7 228.0L765.7 235.0L759.7 228.0Z" fill="#f01010"/>
<text x="786.5" y="231.8" font-family='"Liberation Sans", sans-serif' font-size="9.6" font-weight="bold" fill="#3a3a3a" textLength="82" lengthAdjust="spacingAndGlyphs">2.08 GeV, FOPI</text>
<path d="M763.2 252.5H768.2V257.0H772.7V262.0H768.2V266.5H763.2V262.0H758.7V257.0H763.2Z" fill="#1010f0" stroke="none" stroke-width="0"/>
<text x="786.5" y="263.3" font-family='"Liberation Sans", sans-serif' font-size="9.6" font-weight="bold" fill="#3a3a3a" textLength="82" lengthAdjust="spacingAndGlyphs">2.40 GeV, FOPI</text>
<g transform="translate(765.7,291.0) rotate(45)"><path d="M-2.8 -7.5H2.8V-2.8H7.5V2.8H2.8V7.5H-2.8V2.8H-7.5V-2.8H-2.8Z" fill="#ffc400" stroke="none" stroke-width="0"/></g>
<text x="786.5" y="294.8" font-family='"Liberation Sans", sans-serif' font-size="9.6" font-weight="bold" fill="#3a3a3a" textLength="82" lengthAdjust="spacingAndGlyphs">2.70 GeV, E895</text>
<rect x="759.2" y="316.0" width="13" height="13" fill="#f01010" stroke="none" stroke-width="0"/>
<text x="786.5" y="326.3" font-family='"Liberation Sans", sans-serif' font-size="9.6" font-weight="bold" fill="#3a3a3a" textLength="105" lengthAdjust="spacingAndGlyphs">3.0 GeV, STAR FXT</text>
<circle cx="765.7" cy="354.0" r="6.6" fill="#000" stroke="none" stroke-width="0"/>
<text x="786.5" y="357.8" font-family='"Liberation Sans", sans-serif' font-size="9.6" font-weight="bold" fill="#3a3a3a" textLength="82" lengthAdjust="spacingAndGlyphs">3.30 GeV, E895</text>
<rect x="759.0" y="378.6" width="13.5" height="13.5" fill="none" stroke="#111" stroke-width="1.5"/>
<text x="786.5" y="389.1" font-family='"Liberation Sans", sans-serif' font-size="9.6" font-weight="bold" fill="#3a3a3a" textLength="82" lengthAdjust="spacingAndGlyphs">3.80 GeV, E895</text>
<rect x="760.0" y="410.8" width="11.5" height="11.5" fill="#0f10e8" stroke="none" stroke-width="0"/>
<text x="786.5" y="420.3" font-family='"Liberation Sans", sans-serif' font-size="9.6" font-weight="bold" fill="#3a3a3a" textLength="72" lengthAdjust="spacingAndGlyphs">7.7 GeV, STAR</text>
<path d="M765.7 442.8L772.2 454.8L759.2 454.8Z" fill="#f010f0" stroke="none" stroke-width="0" stroke-linejoin="miter"/>
<text x="786.5" y="452.6" font-family='"Liberation Sans", sans-serif' font-size="9.6" font-weight="bold" fill="#3a3a3a" textLength="78" lengthAdjust="spacingAndGlyphs">11.5 GeV, STAR</text>
<path d="M765.7 473.5L772.7 486.5L758.7 486.5Z" fill="none" stroke="#10d010" stroke-width="1.5" stroke-linejoin="miter"/>
<text x="786.5" y="483.8" font-family='"Liberation Sans", sans-serif' font-size="9.6" font-weight="bold" fill="#3a3a3a" textLength="78" lengthAdjust="spacingAndGlyphs">14.5 GeV, STAR</text>
<path d="M763.5 503.7H768.0V508.9H773.2V513.5H768.0V518.7H763.5V513.5H758.2V508.9H763.5Z" fill="#000" stroke="none" stroke-width="0"/>
<text x="786.5" y="515.0" font-family='"Liberation Sans", sans-serif' font-size="9.6" font-weight="bold" fill="#3a3a3a" textLength="78" lengthAdjust="spacingAndGlyphs">19.6 GeV, STAR</text>
<g transform="translate(765.7,542.8) rotate(45)"><path d="M-2.8 -8.5H2.8V-2.8H8.5V2.8H2.8V8.5H-2.8V2.8H-8.5V-2.8H-2.8Z" fill="#f01010" stroke="none" stroke-width="0"/></g>
<text x="786.5" y="546.6" font-family='"Liberation Sans", sans-serif' font-size="9.6" font-weight="bold" fill="#3a3a3a" textLength="70" lengthAdjust="spacingAndGlyphs">27 GeV, STAR</text>
<circle cx="765.7" cy="574.5" r="7.5" fill="none" stroke="#000" stroke-width="1.6"/>
<text x="786.5" y="578.3" font-family='"Liberation Sans", sans-serif' font-size="9.6" font-weight="bold" fill="#3a3a3a" textLength="70" lengthAdjust="spacingAndGlyphs">39 GeV, STAR</text>
<polygon points="765.7,597.0 767.8,602.1 773.3,602.5 769.1,606.1 770.4,611.5 765.7,608.6 761.0,611.5 762.3,606.1 758.1,602.5 763.6,602.1" fill="#000"/>
<text x="786.5" y="608.8" font-family='"Liberation Sans", sans-serif' font-size="9.6" font-weight="bold" fill="#3a3a3a" textLength="78" lengthAdjust="spacingAndGlyphs">62.4 GeV, STAR</text>
<rect x="1006" y="134" width="719" height="714" fill="#fdfdfd"/>
<rect x="1115.75" y="160.3" width="548.0" height="574.7" fill="#fff" stroke="#000" stroke-width="2.2"/>
<path d="M1134.0 735v-9M1134.0 160.3v9M1152.3 735v-9M1152.3 160.3v9M1170.5 735v-9M1170.5 160.3v9M1188.8 735v-9M1188.8 160.3v9M1207.1 735v-18M1207.1 160.3v18M1225.3 735v-9M1225.3 160.3v9M1243.6 735v-9M1243.6 160.3v9M1261.9 735v-9M1261.9 160.3v9M1280.1 735v-9M1280.1 160.3v9M1298.4 735v-18M1298.4 160.3v18M1316.7 735v-9M1316.7 160.3v9M1334.9 735v-9M1334.9 160.3v9M1353.2 735v-9M1353.2 160.3v9M1371.5 735v-9M1371.5 160.3v9M1389.7 735v-18M1389.7 160.3v18M1408.0 735v-9M1408.0 160.3v9M1426.3 735v-9M1426.3 160.3v9M1444.5 735v-9M1444.5 160.3v9M1462.8 735v-9M1462.8 160.3v9M1481.0 735v-18M1481.0 160.3v18M1499.3 735v-9M1499.3 160.3v9M1517.6 735v-9M1517.6 160.3v9M1535.8 735v-9M1535.8 160.3v9M1554.1 735v-9M1554.1 160.3v9M1572.4 735v-18M1572.4 160.3v18M1590.6 735v-9M1590.6 160.3v9M1608.9 735v-9M1608.9 160.3v9M1627.2 735v-9M1627.2 160.3v9M1645.4 735v-9M1645.4 160.3v9M1115.75 733.7h9M1663.7 733.7h-9M1115.75 718.5h17.5M1663.7 718.5h-17.5M1115.75 703.4h9M1663.7 703.4h-9M1115.75 688.3h9M1663.7 688.3h-9M1115.75 673.1h9M1663.7 673.1h-9M1115.75 658.0h9M1663.7 658.0h-9M1115.75 642.9h17.5M1663.7 642.9h-17.5M1115.75 627.8h9M1663.7 627.8h-9M1115.75 612.6h9M1663.7 612.6h-9M1115.75 597.5h9M1663.7 597.5h-9M1115.75 582.4h9M1663.7 582.4h-9M1115.75 567.2h17.5M1663.7 567.2h-17.5M1115.75 552.1h9M1663.7 552.1h-9M1115.75 537.0h9M1663.7 537.0h-9M1115.75 521.8h9M1663.7 521.8h-9M1115.75 506.7h9M1663.7 506.7h-9M1115.75 491.6h17.5M1663.7 491.6h-17.5M1115.75 476.5h9M1663.7 476.5h-9M1115.75 461.3h9M1663.7 461.3h-9M1115.75 446.2h9M1663.7 446.2h-9M1115.75 431.1h9M1663.7 431.1h-9M1115.75 415.9h17.5M1663.7 415.9h-17.5M1115.75 400.8h9M1663.7 400.8h-9M1115.75 385.7h9M1663.7 385.7h-9M1115.75 370.6h9M1663.7 370.6h-9M1115.75 355.4h9M1663.7 355.4h-9M1115.75 340.3h17.5M1663.7 340.3h-17.5M1115.75 325.2h9M1663.7 325.2h-9M1115.75 310.0h9M1663.7 310.0h-9M1115.75 294.9h9M1663.7 294.9h-9M1115.75 279.8h9M1663.7 279.8h-9M1115.75 264.7h17.5M1663.7 264.7h-17.5M1115.75 249.5h9M1663.7 249.5h-9M1115.75 234.4h9M1663.7 234.4h-9M1115.75 219.3h9M1663.7 219.3h-9M1115.75 204.1h9M1663.7 204.1h-9M1115.75 189.0h17.5M1663.7 189.0h-17.5M1115.75 173.9h9M1663.7 173.9h-9" stroke="#000" stroke-width="2" fill="none"/>
<line x1="1115.75" y1="340" x2="1482" y2="340" stroke="#111" stroke-width="1.3" stroke-dasharray="3 3"/>
<text transform="translate(1108.0,201.9) scale(0.87,1)" font-family='"Liberation Sans", sans-serif' font-size="37" font-weight="bold" text-anchor="end" fill="#000">0.1</text>
<text transform="translate(1108.0,277.6) scale(0.87,1)" font-family='"Liberation Sans", sans-serif' font-size="37" font-weight="bold" text-anchor="end" fill="#000">0.05</text>
<text transform="translate(1108.0,353.2) scale(0.87,1)" font-family='"Liberation Sans", sans-serif' font-size="37" font-weight="bold" text-anchor="end" fill="#000">0</text>
<text transform="translate(1108.0,428.8) scale(0.87,1)" font-family='"Liberation Sans", sans-serif' font-size="37" font-weight="bold" text-anchor="end" fill="#000">−0.05</text>
<text transform="translate(1108.0,504.5) scale(0.87,1)" font-family='"Liberation Sans", sans-serif' font-size="37" font-weight="bold" text-anchor="end" fill="#000">−0.1</text>
<text transform="translate(1108.0,580.1) scale(0.87,1)" font-family='"Liberation Sans", sans-serif' font-size="37" font-weight="bold" text-anchor="end" fill="#000">−0.15</text>
<text transform="translate(1108.0,655.8) scale(0.87,1)" font-family='"Liberation Sans", sans-serif' font-size="37" font-weight="bold" text-anchor="end" fill="#000">−0.2</text>
<text transform="translate(1108.0,731.4) scale(0.87,1)" font-family='"Liberation Sans", sans-serif' font-size="37" font-weight="bold" text-anchor="end" fill="#000">−0.25</text>
<text transform="translate(1115.8,768.5) scale(0.86,1)" font-family='"Liberation Sans", sans-serif' font-size="37" font-weight="bold" text-anchor="middle" fill="#000">0</text>
<text transform="translate(1207.1,768.5) scale(0.86,1)" font-family='"Liberation Sans", sans-serif' font-size="37" font-weight="bold" text-anchor="middle" fill="#000">0.5</text>
<text transform="translate(1298.4,768.5) scale(0.86,1)" font-family='"Liberation Sans", sans-serif' font-size="37" font-weight="bold" text-anchor="middle" fill="#000">1</text>
<text transform="translate(1389.7,768.5) scale(0.86,1)" font-family='"Liberation Sans", sans-serif' font-size="37" font-weight="bold" text-anchor="middle" fill="#000">1.5</text>
<text transform="translate(1481.0,768.5) scale(0.86,1)" font-family='"Liberation Sans", sans-serif' font-size="37" font-weight="bold" text-anchor="middle" fill="#000">2</text>
<text transform="translate(1572.4,768.5) scale(0.86,1)" font-family='"Liberation Sans", sans-serif' font-size="37" font-weight="bold" text-anchor="middle" fill="#000">2.5</text>
<text transform="translate(1663.7,768.5) scale(0.86,1)" font-family='"Liberation Sans", sans-serif' font-size="37" font-weight="bold" text-anchor="middle" fill="#000">3</text>
<text transform="translate(1490.0,811.7) scale(0.95,1)" font-family='"Liberation Sans", sans-serif' font-size="41" font-weight="bold" text-anchor="start" fill="#000">p</text>
<text transform="translate(1513.0,834.0) scale(0.95,1)" font-family='"Liberation Sans", sans-serif' font-size="27" font-weight="bold" text-anchor="start" fill="#000">T</text>
<text transform="translate(1531.0,811.7) scale(0.96,1)" font-family='"Liberation Sans", sans-serif' font-size="41" font-weight="bold" text-anchor="start" fill="#000">, GeV/c</text>
<g transform="translate(1030.5,197.5) rotate(-90)"><text font-family='"Liberation Sans", sans-serif' font-size="40" font-weight="bold" fill="#000" textLength="21" lengthAdjust="spacingAndGlyphs">v</text><text x="24.5" y="11.5" font-family='"Liberation Sans", sans-serif' font-size="26" font-weight="bold" fill="#000" textLength="14" lengthAdjust="spacingAndGlyphs">2</text></g>
<text x="1146.6" y="197" font-family='"Liberation Sans", sans-serif' font-size="20.5" font-weight="bold" fill="#111" textLength="69" lengthAdjust="spacingAndGlyphs">Au+Au,</text>
<path d="M1224 190l3 10l5 -17h26" stroke="#111" stroke-width="1.3" fill="none"/>
<text x="1233" y="197" font-family='"Liberation Sans", sans-serif' font-size="20.5" font-weight="bold" fill="#111" textLength="13" lengthAdjust="spacingAndGlyphs">s</text>
<text x="1245" y="202" font-family='"Liberation Sans", sans-serif' font-size="13" font-weight="bold" fill="#111" textLength="17" lengthAdjust="spacingAndGlyphs">NN</text>
<text x="1263" y="197" font-family='"Liberation Sans", sans-serif' font-size="20.5" font-weight="bold" fill="#111" textLength="212" lengthAdjust="spacingAndGlyphs">=2.4-4.5 GeV, 6&lt;b&lt;9 fm</text>
<text x="1146.6" y="234.6" font-family='"Liberation Sans", sans-serif' font-size="20.5" font-weight="bold" fill="#111" textLength="70" lengthAdjust="spacingAndGlyphs">protons</text>
<path d="M1426.6 665.0V685.0M1424.1 665.0H1429.1M1424.1 685.0H1429.1" stroke="#000" stroke-width="1.8" fill="none"/>
<path d="M1464.1 650.6V692.6M1461.6 650.6H1466.6M1461.6 692.6H1466.6" stroke="#000" stroke-width="1.8" fill="none"/>
<path d="M1426.3 578.1V579.6M1426.3 592.6V594.1M1423.8 578.1H1428.8M1423.8 594.1H1428.8" stroke="#000" stroke-width="1.8" fill="none"/>
<path d="M1463.8 565.0V576.5M1463.8 589.5V601.0M1461.3 565.0H1466.3M1461.3 601.0H1466.3" stroke="#000" stroke-width="1.8" fill="none"/>
<path d="M1463.8 498.2V513.6M1461.3 498.2H1466.3M1461.3 513.6H1466.3" stroke="#000" stroke-width="1.8" fill="none"/>
<circle cx="1130.0" cy="342.0" r="6.5" fill="none" stroke="#33b8c0" stroke-width="1.4"/>
<circle cx="1140.0" cy="344.0" r="6.5" fill="none" stroke="#33b8c0" stroke-width="1.4"/>
<circle cx="1150.0" cy="345.0" r="6.5" fill="none" stroke="#33b8c0" stroke-width="1.4"/>
<circle cx="1160.0" cy="346.0" r="6.5" fill="none" stroke="#33b8c0" stroke-width="1.4"/>
<circle cx="1170.0" cy="347.0" r="6.5" fill="none" stroke="#33b8c0" stroke-width="1.4"/>
<circle cx="1181.8" cy="347.1" r="6.5" fill="none" stroke="#33b8c0" stroke-width="1.4"/>
<circle cx="1192.4" cy="344.3" r="6.5" fill="none" stroke="#33b8c0" stroke-width="1.4"/>
<circle cx="1202.5" cy="343.2" r="6.5" fill="none" stroke="#33b8c0" stroke-width="1.4"/>
<circle cx="1216.6" cy="343.2" r="6.5" fill="none" stroke="#33b8c0" stroke-width="1.4"/>
<circle cx="1235.1" cy="340.4" r="6.5" fill="none" stroke="#33b8c0" stroke-width="1.4"/>
<circle cx="1253.6" cy="341.5" r="6.5" fill="none" stroke="#33b8c0" stroke-width="1.4"/>
<circle cx="1271.5" cy="341.5" r="6.5" fill="none" stroke="#33b8c0" stroke-width="1.4"/>
<circle cx="1290.0" cy="338.7" r="6.5" fill="none" stroke="#33b8c0" stroke-width="1.4"/>
<circle cx="1317.5" cy="335.9" r="6.5" fill="none" stroke="#33b8c0" stroke-width="1.4"/>
<circle cx="1353.9" cy="335.3" r="6.5" fill="none" stroke="#33b8c0" stroke-width="1.4"/>
<circle cx="1391.0" cy="334.2" r="6.5" fill="none" stroke="#33b8c0" stroke-width="1.4"/>
<circle cx="1426.8" cy="342.6" r="6.5" fill="none" stroke="#33b8c0" stroke-width="1.4"/>
<circle cx="1464.4" cy="328.6" r="6.5" fill="none" stroke="#33b8c0" stroke-width="1.4"/>
<path d="M1122.5 334.0H1127.5V338.5H1132.0V343.5H1127.5V348.0H1122.5V343.5H1118.0V338.5H1122.5Z" fill="none" stroke="#338833" stroke-width="1.4"/>
<path d="M1132.5 336.0H1137.5V340.5H1142.0V345.5H1137.5V350.0H1132.5V345.5H1128.0V340.5H1132.5Z" fill="none" stroke="#338833" stroke-width="1.4"/>
<path d="M1142.5 338.0H1147.5V342.5H1152.0V347.5H1147.5V352.0H1142.5V347.5H1138.0V342.5H1142.5Z" fill="none" stroke="#338833" stroke-width="1.4"/>
<path d="M1151.5 340.0H1156.5V344.5H1161.0V349.5H1156.5V354.0H1151.5V349.5H1147.0V344.5H1151.5Z" fill="none" stroke="#338833" stroke-width="1.4"/>
<path d="M1160.5 342.0H1165.5V346.5H1170.0V351.5H1165.5V356.0H1160.5V351.5H1156.0V346.5H1160.5Z" fill="none" stroke="#338833" stroke-width="1.4"/>
<path d="M1170.3 344.6H1175.3V349.1H1179.8V354.1H1175.3V358.6H1170.3V354.1H1165.8V349.1H1170.3Z" fill="none" stroke="#338833" stroke-width="1.4"/>
<path d="M1181.5 345.7H1186.5V350.2H1191.0V355.2H1186.5V359.7H1181.5V355.2H1177.0V350.2H1181.5Z" fill="none" stroke="#338833" stroke-width="1.4"/>
<path d="M1191.1 348.0H1196.1V352.5H1200.6V357.5H1196.1V362.0H1191.1V357.5H1186.6V352.5H1191.1Z" fill="none" stroke="#338833" stroke-width="1.4"/>
<path d="M1200.6 351.9H1205.6V356.4H1210.1V361.4H1205.6V365.9H1200.6V361.4H1196.1V356.4H1200.6Z" fill="none" stroke="#338833" stroke-width="1.4"/>
<path d="M1214.1 353.6H1219.1V358.1H1223.6V363.1H1219.1V367.6H1214.1V363.1H1209.6V358.1H1214.1Z" fill="none" stroke="#338833" stroke-width="1.4"/>
<path d="M1232.6 359.2H1237.6V363.7H1242.1V368.7H1237.6V373.2H1232.6V368.7H1228.1V363.7H1232.6Z" fill="none" stroke="#338833" stroke-width="1.4"/>
<path d="M1251.1 363.7H1256.1V368.2H1260.6V373.2H1256.1V377.7H1251.1V373.2H1246.6V368.2H1251.1Z" fill="none" stroke="#338833" stroke-width="1.4"/>
<path d="M1269.0 368.2H1274.0V372.7H1278.5V377.7H1274.0V382.2H1269.0V377.7H1264.5V372.7H1269.0Z" fill="none" stroke="#338833" stroke-width="1.4"/>
<path d="M1287.0 371.5H1292.0V376.0H1296.5V381.0H1292.0V385.5H1287.0V381.0H1282.5V376.0H1287.0Z" fill="none" stroke="#338833" stroke-width="1.4"/>
<path d="M1315.0 378.8H1320.0V383.3H1324.5V388.3H1320.0V392.8H1315.0V388.3H1310.5V383.3H1315.0Z" fill="none" stroke="#338833" stroke-width="1.4"/>
<path d="M1350.9 383.3H1355.9V387.8H1360.4V392.8H1355.9V397.3H1350.9V392.8H1346.4V387.8H1350.9Z" fill="none" stroke="#338833" stroke-width="1.4"/>
<path d="M1388.5 387.8H1393.5V392.3H1398.0V397.3H1393.5V401.8H1388.5V397.3H1384.0V392.3H1388.5Z" fill="none" stroke="#338833" stroke-width="1.4"/>
<path d="M1424.3 387.8H1429.3V392.3H1433.8V397.3H1429.3V401.8H1424.3V397.3H1419.8V392.3H1424.3Z" fill="none" stroke="#338833" stroke-width="1.4"/>
<path d="M1461.3 391.1H1466.3V395.6H1470.8V400.6H1466.3V405.1H1461.3V400.6H1456.8V395.6H1461.3Z" fill="none" stroke="#338833" stroke-width="1.4"/>
<rect x="1118.8" y="336.8" width="12.5" height="12.5" fill="none" stroke="#cc44cc" stroke-width="1.6"/>
<rect x="1133.8" y="341.8" width="12.5" height="12.5" fill="none" stroke="#cc44cc" stroke-width="1.6"/>
<rect x="1143.8" y="348.8" width="12.5" height="12.5" fill="none" stroke="#cc44cc" stroke-width="1.6"/>
<rect x="1152.8" y="357.8" width="12.5" height="12.5" fill="none" stroke="#cc44cc" stroke-width="1.6"/>
<rect x="1161.8" y="366.8" width="12.5" height="12.5" fill="none" stroke="#cc44cc" stroke-width="1.6"/>
<rect x="1170.8" y="375.8" width="12.5" height="12.5" fill="none" stroke="#cc44cc" stroke-width="1.6"/>
<rect x="1177.8" y="385.8" width="12.5" height="12.5" fill="none" stroke="#cc44cc" stroke-width="1.6"/>
<rect x="1185.2" y="397.8" width="12.5" height="12.5" fill="none" stroke="#cc44cc" stroke-width="1.6"/>
<rect x="1195.3" y="412.2" width="12.5" height="12.5" fill="none" stroke="#cc44cc" stroke-width="1.6"/>
<rect x="1209.8" y="428.8" width="12.5" height="12.5" fill="none" stroke="#cc44cc" stroke-width="1.6"/>
<rect x="1228.2" y="451.8" width="12.5" height="12.5" fill="none" stroke="#cc44cc" stroke-width="1.6"/>
<rect x="1246.8" y="474.9" width="12.5" height="12.5" fill="none" stroke="#cc44cc" stroke-width="1.6"/>
<rect x="1264.2" y="499.6" width="12.5" height="12.5" fill="none" stroke="#cc44cc" stroke-width="1.6"/>
<rect x="1282.8" y="518.1" width="12.5" height="12.5" fill="none" stroke="#cc44cc" stroke-width="1.6"/>
<rect x="1310.5" y="540.1" width="12.5" height="12.5" fill="none" stroke="#cc44cc" stroke-width="1.6"/>
<rect x="1346.5" y="561.4" width="12.5" height="12.5" fill="none" stroke="#cc44cc" stroke-width="1.6"/>
<rect x="1384.0" y="568.5" width="12.5" height="12.5" fill="none" stroke="#cc44cc" stroke-width="1.6"/>
<rect x="1420.0" y="579.9" width="12.5" height="12.5" fill="none" stroke="#cc44cc" stroke-width="1.6"/>
<rect x="1457.5" y="576.8" width="12.5" height="12.5" fill="none" stroke="#cc44cc" stroke-width="1.6"/>
<path d="M1122.0 335.0L1128.5 349.0L1115.5 349.0Z" fill="#990000" stroke="none" stroke-width="0" stroke-linejoin="miter"/>
<path d="M1130.0 338.0L1136.5 352.0L1123.5 352.0Z" fill="#990000" stroke="none" stroke-width="0" stroke-linejoin="miter"/>
<path d="M1139.0 340.0L1145.5 354.0L1132.5 354.0Z" fill="#990000" stroke="none" stroke-width="0" stroke-linejoin="miter"/>
<path d="M1147.0 343.0L1153.5 357.0L1140.5 357.0Z" fill="#990000" stroke="none" stroke-width="0" stroke-linejoin="miter"/>
<path d="M1156.6 347.0L1163.1 361.0L1150.1 361.0Z" fill="#990000" stroke="none" stroke-width="0" stroke-linejoin="miter"/>
<path d="M1166.1 354.1L1172.6 368.1L1159.6 368.1Z" fill="#990000" stroke="none" stroke-width="0" stroke-linejoin="miter"/>
<path d="M1175.6 359.2L1182.1 373.2L1169.1 373.2Z" fill="#990000" stroke="none" stroke-width="0" stroke-linejoin="miter"/>
<path d="M1184.0 365.9L1190.5 379.9L1177.5 379.9Z" fill="#990000" stroke="none" stroke-width="0" stroke-linejoin="miter"/>
<path d="M1193.6 373.2L1200.1 387.2L1187.1 387.2Z" fill="#990000" stroke="none" stroke-width="0" stroke-linejoin="miter"/>
<path d="M1202.5 379.9L1209.0 393.9L1196.0 393.9Z" fill="#990000" stroke="none" stroke-width="0" stroke-linejoin="miter"/>
<path d="M1216.6 393.0L1223.1 407.0L1210.1 407.0Z" fill="#990000" stroke="none" stroke-width="0" stroke-linejoin="miter"/>
<path d="M1235.3 406.3L1241.8 420.3L1228.8 420.3Z" fill="#990000" stroke="none" stroke-width="0" stroke-linejoin="miter"/>
<path d="M1253.2 420.5L1259.7 434.5L1246.7 434.5Z" fill="#990000" stroke="none" stroke-width="0" stroke-linejoin="miter"/>
<path d="M1271.4 434.0L1277.9 448.0L1264.9 448.0Z" fill="#990000" stroke="none" stroke-width="0" stroke-linejoin="miter"/>
<path d="M1289.4 446.4L1295.9 460.4L1282.9 460.4Z" fill="#990000" stroke="none" stroke-width="0" stroke-linejoin="miter"/>
<path d="M1316.7 462.9L1323.2 476.9L1310.2 476.9Z" fill="#990000" stroke="none" stroke-width="0" stroke-linejoin="miter"/>
<path d="M1353.7 477.5L1360.2 491.5L1347.2 491.5Z" fill="#990000" stroke="none" stroke-width="0" stroke-linejoin="miter"/>
<path d="M1390.5 488.5L1397.0 502.5L1384.0 502.5Z" fill="#990000" stroke="none" stroke-width="0" stroke-linejoin="miter"/>
<path d="M1426.3 485.2L1432.8 499.2L1419.8 499.2Z" fill="#990000" stroke="none" stroke-width="0" stroke-linejoin="miter"/>
<path d="M1463.8 498.9L1470.3 512.9L1457.3 512.9Z" fill="#990000" stroke="none" stroke-width="0" stroke-linejoin="miter"/>
<circle cx="1121.0" cy="343.0" r="6.2" fill="#000099" stroke="none" stroke-width="0"/>
<circle cx="1129.0" cy="347.0" r="6.2" fill="#000099" stroke="none" stroke-width="0"/>
<circle cx="1138.3" cy="351.0" r="6.2" fill="#000099" stroke="none" stroke-width="0"/>
<circle cx="1148.4" cy="361.7" r="6.2" fill="#000099" stroke="none" stroke-width="0"/>
<circle cx="1157.3" cy="372.8" r="6.2" fill="#000099" stroke="none" stroke-width="0"/>
<circle cx="1167.2" cy="385.9" r="6.2" fill="#000099" stroke="none" stroke-width="0"/>
<circle cx="1176.1" cy="400.0" r="6.2" fill="#000099" stroke="none" stroke-width="0"/>
<circle cx="1185.0" cy="415.4" r="6.2" fill="#000099" stroke="none" stroke-width="0"/>
<circle cx="1194.0" cy="430.4" r="6.2" fill="#000099" stroke="none" stroke-width="0"/>
<circle cx="1202.6" cy="447.3" r="6.2" fill="#000099" stroke="none" stroke-width="0"/>
<circle cx="1216.6" cy="468.9" r="6.2" fill="#000099" stroke="none" stroke-width="0"/>
<circle cx="1235.1" cy="499.7" r="6.2" fill="#000099" stroke="none" stroke-width="0"/>
<circle cx="1254.0" cy="531.2" r="6.2" fill="#000099" stroke="none" stroke-width="0"/>
<circle cx="1271.5" cy="558.3" r="6.2" fill="#000099" stroke="none" stroke-width="0"/>
<circle cx="1290.4" cy="585.1" r="6.2" fill="#000099" stroke="none" stroke-width="0"/>
<circle cx="1317.4" cy="612.8" r="6.2" fill="#000099" stroke="none" stroke-width="0"/>
<circle cx="1354.0" cy="640.0" r="6.2" fill="#000099" stroke="none" stroke-width="0"/>
<circle cx="1390.1" cy="653.2" r="6.2" fill="#000099" stroke="none" stroke-width="0"/>
<circle cx="1426.6" cy="675.0" r="6.2" fill="#000099" stroke="none" stroke-width="0"/>
<circle cx="1464.1" cy="671.6" r="6.2" fill="#000099" stroke="none" stroke-width="0"/>
<path d="M1120.7 343.0L1128.2 357.0L1113.2 357.0Z" fill="none" stroke="#ff7f3f" stroke-width="1.4" stroke-linejoin="miter"/>
<path d="M1130.0 337.0L1137.5 351.0L1122.5 351.0Z" fill="none" stroke="#ff7f3f" stroke-width="1.4" stroke-linejoin="miter"/>
<path d="M1140.0 336.0L1147.5 350.0L1132.5 350.0Z" fill="none" stroke="#ff7f3f" stroke-width="1.4" stroke-linejoin="miter"/>
<path d="M1150.0 335.0L1157.5 349.0L1142.5 349.0Z" fill="none" stroke="#ff7f3f" stroke-width="1.4" stroke-linejoin="miter"/>
<path d="M1160.0 333.0L1167.5 347.0L1152.5 347.0Z" fill="none" stroke="#ff7f3f" stroke-width="1.4" stroke-linejoin="miter"/>
<path d="M1170.0 331.0L1177.5 345.0L1162.5 345.0Z" fill="none" stroke="#ff7f3f" stroke-width="1.4" stroke-linejoin="miter"/>
<path d="M1180.0 328.0L1187.5 342.0L1172.5 342.0Z" fill="none" stroke="#ff7f3f" stroke-width="1.4" stroke-linejoin="miter"/>
<path d="M1190.0 326.0L1197.5 340.0L1182.5 340.0Z" fill="none" stroke="#ff7f3f" stroke-width="1.4" stroke-linejoin="miter"/>
<path d="M1202.0 323.0L1209.5 337.0L1194.5 337.0Z" fill="none" stroke="#ff7f3f" stroke-width="1.4" stroke-linejoin="miter"/>
<path d="M1216.0 319.0L1223.5 333.0L1208.5 333.0Z" fill="none" stroke="#ff7f3f" stroke-width="1.4" stroke-linejoin="miter"/>
<path d="M1234.5 313.0L1242.0 327.0L1227.0 327.0Z" fill="none" stroke="#ff7f3f" stroke-width="1.4" stroke-linejoin="miter"/>
<path d="M1253.0 304.0L1260.5 318.0L1245.5 318.0Z" fill="none" stroke="#ff7f3f" stroke-width="1.4" stroke-linejoin="miter"/>
<path d="M1270.0 297.0L1277.5 311.0L1262.5 311.0Z" fill="none" stroke="#ff7f3f" stroke-width="1.4" stroke-linejoin="miter"/>
<path d="M1288.8 292.3L1296.3 306.3L1281.3 306.3Z" fill="none" stroke="#ff7f3f" stroke-width="1.4" stroke-linejoin="miter"/>
<path d="M1316.8 280.0L1324.3 294.0L1309.3 294.0Z" fill="none" stroke="#ff7f3f" stroke-width="1.4" stroke-linejoin="miter"/>
<path d="M1353.5 273.0L1361.0 287.0L1346.0 287.0Z" fill="none" stroke="#ff7f3f" stroke-width="1.4" stroke-linejoin="miter"/>
<path d="M1389.6 263.2L1397.1 277.2L1382.1 277.2Z" fill="none" stroke="#ff7f3f" stroke-width="1.4" stroke-linejoin="miter"/>
<path d="M1426.3 256.2L1433.8 270.2L1418.8 270.2Z" fill="none" stroke="#ff7f3f" stroke-width="1.4" stroke-linejoin="miter"/>
<path d="M1463.8 249.3L1471.3 263.3L1456.3 263.3Z" fill="none" stroke="#ff7f3f" stroke-width="1.4" stroke-linejoin="miter"/>
<rect x="1111.2" y="337.7" width="11" height="11" fill="#999900" stroke="none" stroke-width="0"/>
<rect x="1120.5" y="336.5" width="11" height="11" fill="#999900" stroke="none" stroke-width="0"/>
<rect x="1130.5" y="337.5" width="11" height="11" fill="#999900" stroke="none" stroke-width="0"/>
<rect x="1141.5" y="337.7" width="11" height="11" fill="#999900" stroke="none" stroke-width="0"/>
<rect x="1151.5" y="334.5" width="11" height="11" fill="#999900" stroke="none" stroke-width="0"/>
<rect x="1160.5" y="331.5" width="11" height="11" fill="#999900" stroke="none" stroke-width="0"/>
<rect x="1169.5" y="329.5" width="11" height="11" fill="#999900" stroke="none" stroke-width="0"/>
<rect x="1178.5" y="327.5" width="11" height="11" fill="#999900" stroke="none" stroke-width="0"/>
<rect x="1187.5" y="325.5" width="11" height="11" fill="#999900" stroke="none" stroke-width="0"/>
<rect x="1197.0" y="323.1" width="11" height="11" fill="#999900" stroke="none" stroke-width="0"/>
<rect x="1209.9" y="319.2" width="11" height="11" fill="#999900" stroke="none" stroke-width="0"/>
<rect x="1229.0" y="316.9" width="11" height="11" fill="#999900" stroke="none" stroke-width="0"/>
<rect x="1247.5" y="311.3" width="11" height="11" fill="#999900" stroke="none" stroke-width="0"/>
<rect x="1266.0" y="302.0" width="11" height="11" fill="#999900" stroke="none" stroke-width="0"/>
<rect x="1284.0" y="298.0" width="11" height="11" fill="#999900" stroke="none" stroke-width="0"/>
<rect x="1311.3" y="294.5" width="11" height="11" fill="#999900" stroke="none" stroke-width="0"/>
<rect x="1346.3" y="285.7" width="11" height="11" fill="#999900" stroke="none" stroke-width="0"/>
<rect x="1384.0" y="276.5" width="11" height="11" fill="#999900" stroke="none" stroke-width="0"/>
<rect x="1420.2" y="270.1" width="11" height="11" fill="#999900" stroke="none" stroke-width="0"/>
<rect x="1457.5" y="268.7" width="11" height="11" fill="#999900" stroke="none" stroke-width="0"/>
<path d="M1115.7 329.5H1120.3V333.7H1124.5V338.3H1120.3V342.5H1115.7V338.3H1111.5V333.7H1115.7Z" fill="#ff0099" stroke="none" stroke-width="0"/>
<path d="M1125.7 328.5H1130.3V332.7H1134.5V337.3H1130.3V341.5H1125.7V337.3H1121.5V332.7H1125.7Z" fill="#ff0099" stroke="none" stroke-width="0"/>
<path d="M1134.7 326.5H1139.3V330.7H1143.5V335.3H1139.3V339.5H1134.7V335.3H1130.5V330.7H1134.7Z" fill="#ff0099" stroke="none" stroke-width="0"/>
<path d="M1144.2 323.2H1148.8V327.4H1153.0V332.0H1148.8V336.2H1144.2V332.0H1140.0V327.4H1144.2Z" fill="#ff0099" stroke="none" stroke-width="0"/>
<path d="M1153.7 323.2H1158.3V327.4H1162.5V332.0H1158.3V336.2H1153.7V332.0H1149.5V327.4H1153.7Z" fill="#ff0099" stroke="none" stroke-width="0"/>
<path d="M1163.2 321.5H1167.8V325.7H1172.0V330.3H1167.8V334.5H1163.2V330.3H1159.0V325.7H1163.2Z" fill="#ff0099" stroke="none" stroke-width="0"/>
<path d="M1172.7 320.4H1177.3V324.6H1181.5V329.2H1177.3V333.4H1172.7V329.2H1168.5V324.6H1172.7Z" fill="#ff0099" stroke="none" stroke-width="0"/>
<path d="M1182.3 318.7H1186.9V322.9H1191.1V327.5H1186.9V331.7H1182.3V327.5H1178.1V322.9H1182.3Z" fill="#ff0099" stroke="none" stroke-width="0"/>
<path d="M1190.7 315.5H1195.3V319.7H1199.5V324.3H1195.3V328.5H1190.7V324.3H1186.5V319.7H1190.7Z" fill="#ff0099" stroke="none" stroke-width="0"/>
<path d="M1200.0 312.5H1204.6V316.7H1208.8V321.3H1204.6V325.5H1200.0V321.3H1195.8V316.7H1200.0Z" fill="#ff0099" stroke="none" stroke-width="0"/>
<path d="M1213.1 312.0H1217.7V316.2H1221.9V320.8H1217.7V325.0H1213.1V320.8H1208.9V316.2H1213.1Z" fill="#ff0099" stroke="none" stroke-width="0"/>
<path d="M1232.2 300.2H1236.8V304.4H1241.0V309.0H1236.8V313.2H1232.2V309.0H1228.0V304.4H1232.2Z" fill="#ff0099" stroke="none" stroke-width="0"/>
<path d="M1250.7 292.8H1255.3V297.0H1259.5V301.6H1255.3V305.8H1250.7V301.6H1246.5V297.0H1250.7Z" fill="#ff0099" stroke="none" stroke-width="0"/>
<path d="M1268.3 283.3H1272.9V287.5H1277.1V292.1H1272.9V296.3H1268.3V292.1H1264.1V287.5H1268.3Z" fill="#ff0099" stroke="none" stroke-width="0"/>
<path d="M1286.5 276.3H1291.1V280.5H1295.3V285.1H1291.1V289.3H1286.5V285.1H1282.3V280.5H1286.5Z" fill="#ff0099" stroke="none" stroke-width="0"/>
<path d="M1313.7 261.3H1318.3V265.5H1322.5V270.1H1318.3V274.3H1313.7V270.1H1309.5V265.5H1313.7Z" fill="#ff0099" stroke="none" stroke-width="0"/>
<path d="M1350.5 250.8H1355.1V255.0H1359.3V259.6H1355.1V263.8H1350.5V259.6H1346.3V255.0H1350.5Z" fill="#ff0099" stroke="none" stroke-width="0"/>
<path d="M1388.1 240.2H1392.7V244.4H1396.9V249.0H1392.7V253.2H1388.1V249.0H1383.9V244.4H1388.1Z" fill="#ff0099" stroke="none" stroke-width="0"/>
<path d="M1424.2 236.9H1428.8V241.1H1433.0V245.7H1428.8V249.9H1424.2V245.7H1420.0V241.1H1424.2Z" fill="#ff0099" stroke="none" stroke-width="0"/>
<path d="M1461.3 234.6H1465.9V238.8H1470.1V243.4H1465.9V247.6H1461.3V243.4H1457.1V238.8H1461.3Z" fill="#ff0099" stroke="none" stroke-width="0"/>
<circle cx="1495.2" cy="204.2" r="6.2" fill="#000099" stroke="none" stroke-width="0"/>
<text x="1513" y="214.5" font-family='"Liberation Sans", sans-serif' font-size="24" font-weight="bold" fill="#000">2.4 GeV</text>
<rect x="1489.0" y="243.8" width="12.5" height="12.5" fill="none" stroke="#cc44cc" stroke-width="1.6"/>
<text x="1513" y="260.3" font-family='"Liberation Sans", sans-serif' font-size="24" font-weight="bold" fill="#000">2.5 GeV</text>
<path d="M1495.2 288.1L1501.7 302.1L1488.7 302.1Z" fill="#990000" stroke="none" stroke-width="0" stroke-linejoin="miter"/>
<text x="1513" y="305.4" font-family='"Liberation Sans", sans-serif' font-size="24" font-weight="bold" fill="#000">2.7 GeV</text>
<path d="M1492.7 332.9H1497.7V337.4H1502.2V342.4H1497.7V346.9H1492.7V342.4H1488.2V337.4H1492.7Z" fill="none" stroke="#338833" stroke-width="1.4"/>
<text x="1513" y="350.2" font-family='"Liberation Sans", sans-serif' font-size="24" font-weight="bold" fill="#000">3 GeV</text>
<circle cx="1495.2" cy="384.6" r="6.5" fill="none" stroke="#33b8c0" stroke-width="1.4"/>
<text x="1513" y="394.9" font-family='"Liberation Sans", sans-serif' font-size="24" font-weight="bold" fill="#000">3.3 GeV</text>
<rect x="1489.7" y="424.2" width="11" height="11" fill="#999900" stroke="none" stroke-width="0"/>
<text x="1513" y="440.0" font-family='"Liberation Sans", sans-serif' font-size="24" font-weight="bold" fill="#000">3.8 GeV</text>
<path d="M1495.2 468.5L1502.7 482.5L1487.7 482.5Z" fill="none" stroke="#ff7f3f" stroke-width="1.4" stroke-linejoin="miter"/>
<text x="1513" y="485.8" font-family='"Liberation Sans", sans-serif' font-size="24" font-weight="bold" fill="#000">4 GeV</text>
<path d="M1492.9 512.8H1497.5V517.0H1501.7V521.6H1497.5V525.8H1492.9V521.6H1488.7V517.0H1492.9Z" fill="#ff0099" stroke="none" stroke-width="0"/>
<text x="1513" y="529.6" font-family='"Liberation Sans", sans-serif' font-size="24" font-weight="bold" fill="#000">4.5 GeV</text>
<text x="65.60" y="54" font-family='"Liberation Sans", sans-serif' font-size="60" font-weight="normal" fill="#000" textLength="304.40" lengthAdjust="spacingAndGlyphs" stroke="#fff" stroke-width="1.3">Anisotropic</text>
<text x="384.00" y="54" font-family='"Liberation Sans", sans-serif' font-size="60" font-weight="normal" fill="#000" textLength="113.00" lengthAdjust="spacingAndGlyphs" stroke="#fff" stroke-width="1.3">flow</text>
<text x="515.00" y="54" font-family='"Liberation Sans", sans-serif' font-size="60" font-weight="normal" fill="#000" textLength="47.00" lengthAdjust="spacingAndGlyphs" stroke="#fff" stroke-width="1.3">in</text>
<text x="578.00" y="54" font-family='"Liberation Sans", sans-serif' font-size="60" font-weight="normal" fill="#000" textLength="178.00" lengthAdjust="spacingAndGlyphs" stroke="#fff" stroke-width="1.3">Au+Au</text>
<text x="770.00" y="54" font-family='"Liberation Sans", sans-serif' font-size="60" font-weight="normal" fill="#000" textLength="243.00" lengthAdjust="spacingAndGlyphs" stroke="#fff" stroke-width="1.3">collisions</text>
<text x="1026.00" y="54" font-family='"Liberation Sans", sans-serif' font-size="60" font-weight="normal" fill="#000" textLength="52.00" lengthAdjust="spacingAndGlyphs" stroke="#fff" stroke-width="1.3">at</text>
<text x="1095.20" y="54" font-family='"Liberation Sans", sans-serif' font-size="60" font-weight="normal" fill="#000" textLength="419.60" lengthAdjust="spacingAndGlyphs" stroke="#fff" stroke-width="1.3">Nuclotron-NICA</text>
<text x="1531.20" y="54" font-family='"Liberation Sans", sans-serif' font-size="60" font-weight="normal" fill="#000" textLength="228.20" lengthAdjust="spacingAndGlyphs" stroke="#fff" stroke-width="1.3">energies</text>
<text x="82.50" y="920.75" font-family='"Liberation Sans", sans-serif' font-size="39" font-weight="bold" fill="#000" textLength="211.30" lengthAdjust="spacingAndGlyphs" >Anisotropic</text>
<text x="307.20" y="920.75" font-family='"Liberation Sans", sans-serif' font-size="39" font-weight="bold" fill="#000" textLength="76.40" lengthAdjust="spacingAndGlyphs" >flow</text>
<text x="395.80" y="920.75" font-family='"Liberation Sans", sans-serif' font-size="39" font-weight="bold" fill="#000" textLength="35.60" lengthAdjust="spacingAndGlyphs" >at</text>
<text x="442.60" y="920.75" font-family='"Liberation Sans", sans-serif' font-size="39" font-weight="bold" fill="#000" textLength="191.20" lengthAdjust="spacingAndGlyphs" >FAIR/NICA</text>
<text x="645.20" y="920.75" font-family='"Liberation Sans", sans-serif' font-size="39" font-weight="bold" fill="#000" textLength="154.80" lengthAdjust="spacingAndGlyphs" >energies</text>
<text x="811.60" y="920.75" font-family='"Liberation Sans", sans-serif' font-size="39" font-weight="bold" fill="#000" textLength="27.40" lengthAdjust="spacingAndGlyphs" >is</text>
<text x="850.40" y="920.75" font-family='"Liberation Sans", sans-serif' font-size="39" font-weight="bold" fill="#000" textLength="18.00" lengthAdjust="spacingAndGlyphs" >a</text>
<text x="885.00" y="920.75" font-family='"Liberation Sans", sans-serif' font-size="39" font-weight="bold" fill="#000" textLength="140.80" lengthAdjust="spacingAndGlyphs" >delicate</text>
<text x="1037.60" y="920.75" font-family='"Liberation Sans", sans-serif' font-size="39" font-weight="bold" fill="#000" textLength="139.80" lengthAdjust="spacingAndGlyphs" >balance</text>
<text x="1191.00" y="920.75" font-family='"Liberation Sans", sans-serif' font-size="39" font-weight="bold" fill="#000" textLength="174.40" lengthAdjust="spacingAndGlyphs" >between:</text>
<text x="81.80" y="987.25" font-family='"Liberation Sans", sans-serif' font-size="38.5" font-weight="normal" fill="#c00000" textLength="24.60" lengthAdjust="spacingAndGlyphs" >I.</text>
<text x="176.80" y="987.25" font-family='"Liberation Sans", sans-serif' font-size="38.5" font-weight="normal" fill="#c00000" textLength="67.60" lengthAdjust="spacingAndGlyphs" >The</text>
<text x="253.80" y="987.25" font-family='"Liberation Sans", sans-serif' font-size="38.5" font-weight="normal" fill="#c00000" textLength="109.00" lengthAdjust="spacingAndGlyphs" >ability</text>
<text x="372.60" y="987.25" font-family='"Liberation Sans", sans-serif' font-size="38.5" font-weight="normal" fill="#c00000" textLength="38.20" lengthAdjust="spacingAndGlyphs" >of</text>
<text x="420.20" y="987.25" font-family='"Liberation Sans", sans-serif' font-size="38.5" font-weight="normal" fill="#c00000" textLength="153.80" lengthAdjust="spacingAndGlyphs" >pressure</text>
<text x="586.00" y="987.25" font-family='"Liberation Sans", sans-serif' font-size="38.5" font-weight="normal" fill="#c00000" textLength="189.60" lengthAdjust="spacingAndGlyphs" >developed</text>
<text x="786.40" y="987.25" font-family='"Liberation Sans", sans-serif' font-size="38.5" font-weight="normal" fill="#c00000" textLength="87.20" lengthAdjust="spacingAndGlyphs" >early</text>
<text x="885.20" y="987.25" font-family='"Liberation Sans", sans-serif' font-size="38.5" font-weight="normal" fill="#c00000" textLength="34.40" lengthAdjust="spacingAndGlyphs" >in</text>
<text x="928.00" y="987.25" font-family='"Liberation Sans", sans-serif' font-size="38.5" font-weight="normal" fill="#c00000" textLength="59.80" lengthAdjust="spacingAndGlyphs" >the</text>
<text x="999.60" y="987.25" font-family='"Liberation Sans", sans-serif' font-size="38.5" font-weight="normal" fill="#c00000" textLength="148.00" lengthAdjust="spacingAndGlyphs" >reaction</text>
<text x="1158.20" y="987.25" font-family='"Liberation Sans", sans-serif' font-size="38.5" font-weight="normal" fill="#c00000" textLength="84.60" lengthAdjust="spacingAndGlyphs" >zone</text>
<text x="81.80" y="1050.25" font-family='"Liberation Sans", sans-serif' font-size="38.5" font-weight="normal" fill="#2f5597" textLength="35.40" lengthAdjust="spacingAndGlyphs" >II.</text>
<text x="176.80" y="1050.25" font-family='"Liberation Sans", sans-serif' font-size="38.5" font-weight="normal" fill="#2f5597" textLength="66.60" lengthAdjust="spacingAndGlyphs" >The</text>
<text x="253.80" y="1050.25" font-family='"Liberation Sans", sans-serif' font-size="38.5" font-weight="normal" fill="#2f5597" textLength="142.00" lengthAdjust="spacingAndGlyphs" >passage</text>
<text x="408.20" y="1050.25" font-family='"Liberation Sans", sans-serif' font-size="38.5" font-weight="normal" fill="#2f5597" textLength="80.60" lengthAdjust="spacingAndGlyphs" >time</text>
<text x="501.20" y="1050.25" font-family='"Liberation Sans", sans-serif' font-size="38.5" font-weight="normal" fill="#2f5597" textLength="48.60" lengthAdjust="spacingAndGlyphs" >for</text>
<text x="559.40" y="1050.25" font-family='"Liberation Sans", sans-serif' font-size="38.5" font-weight="normal" fill="#2f5597" textLength="147.40" lengthAdjust="spacingAndGlyphs" >removal</text>
<text x="717.60" y="1050.25" font-family='"Liberation Sans", sans-serif' font-size="38.5" font-weight="normal" fill="#2f5597" textLength="37.20" lengthAdjust="spacingAndGlyphs" >of</text>
<text x="765.40" y="1050.25" font-family='"Liberation Sans", sans-serif' font-size="38.5" font-weight="normal" fill="#2f5597" textLength="58.80" lengthAdjust="spacingAndGlyphs" >the</text>
<text x="835.20" y="1050.25" font-family='"Liberation Sans", sans-serif' font-size="38.5" font-weight="normal" fill="#2f5597" textLength="195.80" lengthAdjust="spacingAndGlyphs" >shadowing</text>
<text x="1040.60" y="1050.25" font-family='"Liberation Sans", sans-serif' font-size="38.5" font-weight="normal" fill="#2f5597" textLength="41.40" lengthAdjust="spacingAndGlyphs" >by</text>
<text x="1091.80" y="1050.25" font-family='"Liberation Sans", sans-serif' font-size="38.5" font-weight="normal" fill="#2f5597" textLength="188.00" lengthAdjust="spacingAndGlyphs" >spectators</text>
<text x="1255.79" y="987" font-family='"Liberation Serif", serif' font-size="42" font-style="normal" fill="#000" textLength="10.32" lengthAdjust="spacingAndGlyphs">(</text>
<text x="1267.99" y="987" font-family='"Liberation Serif", serif' font-size="42" font-style="italic" fill="#000" textLength="15.65" lengthAdjust="spacingAndGlyphs">t</text>
<text x="1285.37" y="995.6" font-family='"Liberation Serif", serif' font-size="33" font-style="italic" fill="#000" textLength="55.04" lengthAdjust="spacingAndGlyphs">exp</text>
<text x="1356.97" y="987" font-family='"Liberation Serif", serif' font-size="42" font-style="normal" fill="#000" textLength="32.43" lengthAdjust="spacingAndGlyphs">=</text>
<text x="1403.40" y="987" font-family='"Liberation Serif", serif' font-size="42" font-style="italic" fill="#000" textLength="23.60" lengthAdjust="spacingAndGlyphs">R</text>
<path d="M1453.4 956.0L1434.9 995.0" stroke="#000" stroke-width="2.6"/>
<text x="1456.64" y="987" font-family='"Liberation Serif", serif' font-size="42" font-style="italic" fill="#000" textLength="18.06" lengthAdjust="spacingAndGlyphs">c</text>
<text x="1477.00" y="995.6" font-family='"Liberation Serif", serif' font-size="33" font-style="italic" fill="#000" textLength="15.08" lengthAdjust="spacingAndGlyphs">s</text>
<text x="1499.43" y="987" font-family='"Liberation Serif", serif' font-size="42" font-style="normal" fill="#000" textLength="14.73" lengthAdjust="spacingAndGlyphs">,</text>
<text x="1517.83" y="987" font-family='"Liberation Serif", serif' font-size="42" font-style="italic" fill="#000" textLength="18.28" lengthAdjust="spacingAndGlyphs">c</text>
<text x="1538.30" y="995.6" font-family='"Liberation Serif", serif' font-size="33" font-style="italic" fill="#000" textLength="14.86" lengthAdjust="spacingAndGlyphs">s</text>
<text x="1568.88" y="987" font-family='"Liberation Serif", serif' font-size="42" font-style="normal" fill="#000" textLength="32.29" lengthAdjust="spacingAndGlyphs">=</text>
<text x="1614.39" y="987" font-family='"Liberation Serif", serif' font-size="42" font-style="italic" fill="#000" textLength="19.80" lengthAdjust="spacingAndGlyphs">c</text>
<text x="1669.66" y="987" font-family='"Liberation Serif", serif' font-size="42" font-style="italic" fill="#000" textLength="48.67" lengthAdjust="spacingAndGlyphs">dp</text>
<path d="M1741.8 956.0L1723.8 995.0" stroke="#000" stroke-width="2.6"/>
<text x="1745.39" y="987" font-family='"Liberation Serif", serif' font-size="42" font-style="italic" fill="#000" textLength="42.21" lengthAdjust="spacingAndGlyphs">dε</text>
<text x="1793.52" y="987" font-family='"Liberation Serif", serif' font-size="42" font-style="normal" fill="#000" textLength="9.88" lengthAdjust="spacingAndGlyphs">)</text>
<text x="1814.77" y="987.25" font-family='"Liberation Sans", sans-serif' font-size="38.5" font-style="normal" fill="#000" textLength="67.06" lengthAdjust="spacingAndGlyphs">and</text>
<text x="1292.41" y="1050" font-family='"Liberation Serif", serif' font-size="42" font-style="normal" fill="#000" textLength="11.28" lengthAdjust="spacingAndGlyphs">(</text>
<text x="1302.90" y="1050" font-family='"Liberation Serif", serif' font-size="42" font-style="italic" fill="#000" textLength="18.70" lengthAdjust="spacingAndGlyphs">t</text>
<text x="1324.98" y="1058.6" font-family='"Liberation Serif", serif' font-size="33" font-style="italic" fill="#000" textLength="68.61" lengthAdjust="spacingAndGlyphs">pass</text>
<text x="1408.88" y="1050" font-family='"Liberation Serif", serif' font-size="42" font-style="normal" fill="#000" textLength="32.29" lengthAdjust="spacingAndGlyphs">=</text>
<text x="1453.91" y="1050" font-family='"Liberation Serif", serif' font-size="42" font-style="normal" fill="#000" textLength="24.75" lengthAdjust="spacingAndGlyphs">2</text>
<text x="1479.50" y="1050" font-family='"Liberation Serif", serif' font-size="42" font-style="italic" fill="#000" textLength="24.20" lengthAdjust="spacingAndGlyphs">R</text>
<path d="M1529.8 1019.7L1511.2 1057.5" stroke="#000" stroke-width="2.6"/>
<text x="1532.00" y="1050" font-family='"Liberation Serif", serif' font-size="42" font-style="italic" fill="#000" textLength="22.20" lengthAdjust="spacingAndGlyphs">γ</text>
<text x="1555.15" y="1058.6" font-family='"Liberation Serif", serif' font-size="33" font-style="italic" fill="#000" textLength="45.23" lengthAdjust="spacingAndGlyphs">CM</text>
<text x="1605.37" y="1050" font-family='"Liberation Serif", serif' font-size="42" font-style="italic" fill="#000" textLength="23.43" lengthAdjust="spacingAndGlyphs">β</text>
<text x="1627.59" y="1058.6" font-family='"Liberation Serif", serif' font-size="33" font-style="italic" fill="#000" textLength="47.60" lengthAdjust="spacingAndGlyphs">CM</text>
<text x="1679.76" y="1050" font-family='"Liberation Serif", serif' font-size="42" font-style="normal" fill="#000" textLength="12.62" lengthAdjust="spacingAndGlyphs">)</text>
<text x="1816.73" y="1044.8" font-family='"Liberation Sans", sans-serif' font-size="23" font-style="normal" fill="#7f7f7f" textLength="26.10" lengthAdjust="spacingAndGlyphs">21</text>
<text x="1150.97" y="123.4" font-family='"Liberation Sans", sans-serif' font-size="38" font-style="normal" fill="#000" textLength="502.05" lengthAdjust="spacingAndGlyphs">Particles 6 (2023) 2, 622-637</text>
<path d="M1636.7 979.2L1641 976.5L1650.3 998L1663.9 946.5H1790.6" stroke="#000" stroke-width="2.3" fill="none"/>
</svg>
</body></html>
